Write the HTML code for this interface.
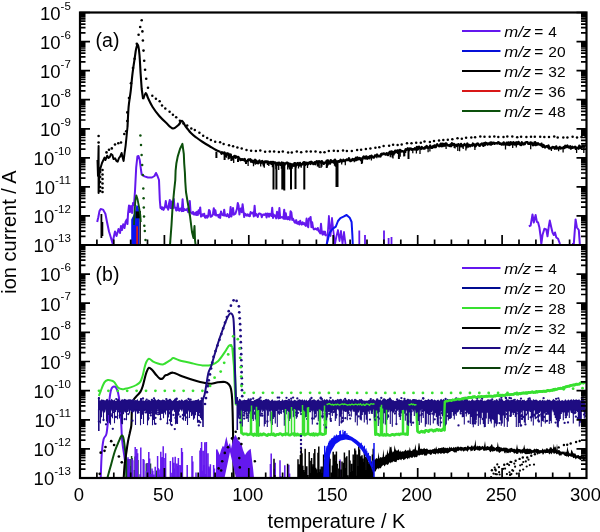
<!DOCTYPE html><html><head><meta charset="utf-8"><style>html,body{margin:0;padding:0;background:#fff;}svg{display:block;will-change:transform;}</style></head><body>
<svg width="600" height="532" viewBox="0 0 600 532">
<rect width="600" height="532" fill="#fff"/>
<path d="M100.7 478.0C100.9 474.1 101.2 461.1 101.7 454.6C102.2 448.2 102.8 442.8 103.6 439.3C104.4 435.8 105.7 437.4 106.5 433.6C107.3 429.8 107.9 421.7 108.4 416.3C108.9 410.9 108.8 405.5 109.3 401.0C109.8 396.5 110.4 391.9 111.2 389.5C112.0 387.1 113.1 386.6 114.1 386.6C115.1 386.6 116.2 387.7 117.0 389.5C117.8 391.3 118.3 392.7 118.9 397.2C119.5 401.7 120.3 409.9 120.8 416.3C121.3 422.7 121.5 430.7 121.8 435.5C122.1 440.3 122.2 441.2 122.7 445.0C123.2 448.8 123.9 453.0 124.7 458.5C125.5 464.0 127.0 474.8 127.5 478.0" fill="none" stroke="#6418ee" stroke-width="2.0" stroke-linejoin="round" />
<path d="M107.4 478.0C108.0 475.7 109.9 468.7 111.2 464.2C112.5 459.7 113.7 454.6 115.0 450.8C116.3 447.0 117.8 443.8 118.9 441.2C120.0 438.6 121.0 435.8 121.8 435.5C122.6 435.2 123.1 436.1 123.7 439.3C124.3 442.5 125.0 449.5 125.6 454.6C126.1 459.7 126.8 467.4 127.0 470.0" fill="none" stroke="#0c500c" stroke-width="2.0" stroke-linejoin="round" />
<path d="M126.0 478.0V464.0M126.7 478.0V458.7M127.4 478.0V467.8M128.1 478.0V459.5M128.8 478.0V458.9M129.5 478.0V466.0M130.2 478.0V467.7M130.9 478.0V459.0M131.6 478.0V456.0M132.3 478.0V458.3M133.0 478.0V477.3M133.7 478.0V477.2M134.4 478.0V469.9M135.1 478.0V456.5M135.8 478.0V457.6M136.5 478.0V455.9M137.2 478.0V459.6M137.9 478.0V460.0M145.6 478.0V478.0M146.3 478.0V463.4M147.0 478.0V463.2M147.7 478.0V470.0M148.4 478.0V463.1M149.1 478.0V466.8M149.8 478.0V463.6M150.5 478.0V463.4M156.1 478.0V473.0M156.8 478.0V470.4M158.2 478.0V468.8M158.9 478.0V476.6M159.6 478.0V474.5" stroke="#0c500c" stroke-width="1.5" fill="none"/>
<path d="M123.7 478.0C123.9 475.7 124.2 468.7 124.7 464.2C125.2 459.7 126.0 454.6 126.6 450.8C127.1 447.0 127.5 444.3 128.0 441.4C128.5 438.5 129.1 436.1 129.7 433.5C130.2 430.9 131.0 428.7 131.3 425.6C131.6 422.5 131.6 418.4 131.7 415.0C131.8 411.6 131.7 407.9 132.0 405.3C132.3 402.8 132.7 401.4 133.6 399.7C134.5 398.0 136.3 396.5 137.5 395.1C138.7 393.8 139.6 393.1 140.5 391.6C141.4 390.1 142.1 388.2 142.8 386.0C143.5 383.8 144.1 380.9 144.7 378.5C145.3 376.1 145.9 373.7 146.6 371.9C147.3 370.1 148.0 368.0 148.9 367.7C149.8 367.4 151.0 368.8 152.2 370.0C153.4 371.2 154.8 373.3 156.0 374.7C157.2 376.1 158.6 377.9 159.7 378.5C160.8 379.1 161.7 379.0 162.6 378.5C163.5 378.0 164.2 376.3 165.0 375.7C165.8 375.1 166.1 375.2 167.5 374.7C168.9 374.2 170.9 372.4 173.3 372.7C175.7 372.9 178.1 374.8 182.0 376.2C185.9 377.6 192.8 379.9 196.6 381.0C200.4 382.1 202.6 382.5 205.0 383.0C207.4 383.5 209.0 383.9 211.2 383.8C213.4 383.7 215.7 382.6 218.0 382.3C220.3 382.0 223.2 381.6 225.0 382.0C226.8 382.4 228.0 383.3 229.0 384.5C230.0 385.7 230.5 386.4 231.0 389.0C231.5 391.6 231.9 393.2 232.2 400.0C232.5 406.8 232.8 417.0 233.0 430.0C233.2 443.0 233.5 470.0 233.6 478.0" fill="none" stroke="#000" stroke-width="2.1" stroke-linejoin="round" />
<path d="M98.8 396.0C99.2 395.1 100.1 392.6 101.0 390.3C101.9 388.0 103.3 384.1 104.4 382.4C105.5 380.7 106.6 380.3 107.8 380.0C109.0 379.7 110.6 380.3 111.7 380.7C112.8 381.1 113.5 381.3 114.5 382.4C115.5 383.5 116.7 386.4 118.0 387.5C119.3 388.6 121.2 389.0 122.4 389.2C123.6 389.4 123.6 389.1 125.0 388.8C126.4 388.5 128.7 388.0 130.6 387.4C132.5 386.8 134.7 385.9 136.3 385.0C137.9 384.1 139.0 383.6 140.0 382.2C141.0 380.8 141.7 378.8 142.4 376.6C143.1 374.4 143.6 371.5 144.2 369.1C144.8 366.8 145.3 364.2 146.1 362.5C146.9 360.8 147.8 358.9 149.0 358.8C150.2 358.7 151.7 360.8 153.2 361.6C154.7 362.4 156.3 363.0 157.9 363.5C159.5 364.0 161.4 364.4 162.6 364.4C163.8 364.4 163.7 364.2 165.0 363.5C166.3 362.8 169.0 361.1 170.4 360.2C171.8 359.3 171.9 358.1 173.3 358.1C174.8 358.1 176.2 359.4 179.1 360.2C182.0 361.0 186.9 362.1 190.8 363.0C194.7 363.9 199.0 365.1 202.4 365.4C205.8 365.7 208.6 365.7 211.2 365.0C213.8 364.3 215.7 363.3 218.0 361.2C220.3 359.1 222.9 354.8 224.8 352.2C226.7 349.6 228.0 346.1 229.3 345.4C230.6 344.6 232.1 347.3 232.7 347.7" fill="none" stroke="#38e030" stroke-width="2.0" stroke-linejoin="round" />
<polyline points="232.7,347.7 234.3,365.7 235.5,395.0 236.0,404.0 240.4,404.5 241.5,433.0 242.5,433.5 243.5,434.3 244.5,433.8 245.5,434.0 246.5,433.8 247.5,434.8 248.5,434.6 249.5,434.3 250.5,433.7 251.5,434.3 252.5,434.2 253.5,435.4 254.5,433.9 255.5,434.6 256.5,435.2 257.5,433.9 258.5,435.5 259.5,435.2 260.5,433.9 261.5,435.0 262.5,434.8 263.5,433.6 264.5,434.2 265.5,434.8 266.5,435.4 267.5,435.5 268.5,434.1 269.5,434.7 270.5,434.8 271.5,433.9 272.5,434.7 273.5,433.7 274.5,435.3 275.5,435.5 276.5,434.4 277.5,434.4 278.5,434.6 279.5,433.7 280.5,433.7 281.5,434.2 282.5,435.2 283.5,434.5 284.5,434.1 285.5,434.7 286.5,433.6 287.5,433.8 288.5,434.9 289.5,435.0 290.5,435.0 291.5,434.2 292.5,434.1 293.5,433.6 294.5,435.2 295.5,433.9 296.5,435.1 297.5,433.9 298.5,434.9 299.5,435.2 300.5,434.5 301.5,434.4 302.5,434.4 303.5,433.7 304.5,435.0 305.5,434.9 306.5,433.8 307.5,433.7 308.5,433.8 309.5,434.1 310.5,434.9 311.5,434.0 312.5,435.0 313.5,433.6 314.5,435.3 315.5,433.9 316.5,434.2 317.5,435.1 318.5,433.9 319.5,434.2 320.5,434.2 321.5,433.6 322.5,434.7 323.5,434.5 324.5,434.1 325.5,433.6 326.5,404.2 327.5,404.5 328.5,403.7 329.5,403.7 330.5,404.3 331.5,404.9 332.5,404.2 333.5,405.2 334.5,404.6 335.5,404.3 336.5,404.9 337.5,404.1 338.5,404.7 339.5,405.1 340.5,404.6 341.5,404.2 342.5,403.9 343.5,404.6 344.5,404.0 345.5,404.3 346.5,404.6 347.5,405.2 348.5,404.8 349.5,404.5 350.5,405.1 351.5,404.2 352.5,404.3 353.5,404.8 354.5,404.6 355.5,404.1 356.5,404.4 357.5,405.0 358.5,404.1 359.5,404.8 360.5,403.8 361.5,405.2 362.5,404.8 363.5,404.2 364.5,405.3 365.5,405.0 366.5,403.8 367.5,404.1 368.5,404.5 369.5,405.3 370.5,403.9 371.5,403.8 372.5,404.2 373.5,403.8 374.5,404.4 375.5,434.6 376.5,433.8 377.5,434.4 378.5,434.5 379.5,435.3 380.5,435.0 381.5,433.8 382.5,435.2 383.5,435.3 384.5,434.3 385.5,435.4 386.5,435.2 387.5,434.4 388.5,435.1 389.5,435.3 390.5,435.3 391.5,434.6 392.5,434.4 393.5,434.7 394.5,435.2 395.5,434.3 396.5,434.2 397.5,434.3 398.5,434.0 399.5,434.8 400.5,433.9 401.5,434.0 402.5,433.8 403.5,433.7 404.5,434.0 405.5,434.4 406.5,433.7 407.5,434.6 408.5,404.3 409.5,404.8 410.5,404.5 411.5,403.8 412.5,404.7 413.5,404.2 414.5,405.1 415.5,404.6 416.5,404.9 417.5,431.2 418.5,432.1 419.5,432.5 420.5,431.8 421.5,431.1 422.5,432.1 423.5,431.5 424.5,432.3 425.5,430.4 426.5,430.4 427.5,431.0 428.5,431.6 429.5,430.1 430.5,430.1 431.5,429.9 432.5,430.3 433.5,431.3 434.5,430.1 435.5,430.7 436.5,429.5 437.5,429.5 438.5,430.5 439.5,429.7 440.5,430.5 441.5,430.6 442.5,429.3 443.5,428.8 444.5,430.2 445.5,401.3 446.5,401.1 447.5,401.2 448.5,400.9 449.5,400.5 450.5,400.6 451.5,400.8 452.5,400.0 453.5,400.1 454.5,400.1 455.5,399.6 456.5,399.3 457.5,399.2 458.5,399.1 459.5,399.6 460.5,399.3 461.5,399.0 462.5,399.0 463.5,398.4 464.5,398.1 465.5,398.5 466.5,398.1 467.5,398.2 468.5,397.5 469.5,397.4 470.5,397.5 471.5,397.6 472.5,397.0 473.5,397.0 474.5,396.7 475.5,397.1 476.5,397.3 477.5,397.0 478.5,396.6 479.5,397.0 480.5,396.9 481.5,396.4 482.5,396.9 483.5,396.7 484.5,396.5 485.5,396.3 486.5,396.1 487.5,396.3 488.5,396.1 489.5,396.0 490.5,396.2 491.5,396.2 492.5,396.3 493.5,396.3 494.5,395.8 495.5,396.0 496.5,395.6 497.5,395.6 498.5,395.6 499.5,395.9 500.5,395.1 501.5,395.3 502.5,395.1 503.5,395.4 504.5,395.4 505.5,394.9 506.5,394.5 507.5,394.8 508.5,394.7 509.5,394.7 510.5,394.7 511.5,394.3 512.5,394.3 513.5,394.4 514.5,393.7 515.5,393.7 516.5,394.0 517.5,394.1 518.5,394.0 519.5,393.4 520.5,393.8 521.5,393.2 522.5,393.2 523.5,392.9 524.5,393.1 525.5,392.9 526.5,393.0 527.5,393.1 528.5,392.4 529.5,392.7 530.5,392.5 531.5,392.2 532.5,391.9 533.5,392.5 534.5,392.2 535.5,392.1 536.5,391.5 537.5,392.1 538.5,391.6 539.5,391.5 540.5,391.5 541.5,391.3 542.5,391.6 543.5,391.1 544.5,391.2 545.5,391.2 546.5,391.2 547.5,390.5 548.5,390.5 549.5,390.9 550.5,390.5 551.5,390.1 552.5,390.3 553.5,389.5 554.5,389.4 555.5,389.1 556.5,389.3 557.5,389.0 558.5,388.6 559.5,388.6 560.5,388.2 561.5,388.3 562.5,388.1 563.5,387.5 564.5,387.7 565.5,386.8 566.5,386.9 567.5,386.3 568.5,386.1 569.5,386.2 570.5,385.5 571.5,385.3 572.5,385.1 573.5,385.0 574.5,385.1 575.5,384.5 576.5,384.1 577.5,384.3 578.5,384.1 579.5,384.0 580.5,383.0 581.5,382.9 582.5,382.8 583.5,383.0 584.5,382.4 585.5,382.4" fill="none" stroke="#38e030" stroke-width="2.8" stroke-linejoin="round" />
<path d="M98.5 399.0L99.5 400.6L100.5 400.5L101.5 399.3L102.5 399.8L103.5 399.7L104.5 400.2L105.5 400.5L106.5 398.9L107.5 398.8L108.5 400.6L109.5 399.7L110.5 400.5L111.5 398.7L112.5 399.7L113.5 400.4L114.5 399.2L115.5 400.9L116.5 400.8L117.5 398.8L118.5 398.8L119.5 399.9L120.5 400.9L121.5 399.6L122.5 399.2L123.5 399.7L124.5 398.8L125.5 399.2L126.5 399.7L127.5 399.8L128.5 399.2L129.5 399.2L130.5 399.2L131.5 399.8L132.5 399.4L133.5 398.7L134.5 400.6L135.5 400.0L136.5 400.2L137.5 399.1L138.5 401.0L139.5 400.7L140.5 399.0L141.5 399.5L142.5 400.4L143.5 400.3L144.5 400.9L145.5 399.7L146.5 400.6L147.5 400.2L148.5 399.4L149.5 400.1L150.5 400.7L151.5 400.6L152.5 399.9L153.5 400.1L154.5 398.8L155.5 399.3L156.5 400.5L157.5 399.7L158.5 399.1L159.5 400.0L160.5 400.3L161.5 400.3L162.5 399.6L163.5 399.7L164.5 399.9L165.5 400.5L166.5 399.9L167.5 399.6L168.5 399.8L169.5 398.8L170.5 398.8L171.5 400.3L172.5 401.0L173.5 400.1L174.5 399.6L175.5 399.1L176.5 399.9L177.5 401.0L178.5 400.5L179.5 399.9L180.5 400.7L181.5 399.2L182.5 399.9L183.5 400.9L184.5 400.0L185.5 399.8L186.5 399.3L187.5 400.0L188.5 400.9L189.5 398.7L190.5 400.5L191.5 400.6L192.5 400.7L193.5 400.4L194.5 400.6L195.5 399.9L196.5 400.0L197.5 399.7L198.5 398.8L199.5 400.7L200.5 400.0L201.5 399.2L202.5 399.9L203.0 410.9L202.0 410.4L201.0 410.4L200.0 411.2L199.0 411.5L198.0 411.4L197.0 410.8L196.0 409.1L195.0 409.9L194.0 409.7L193.0 411.3L192.0 412.4L191.0 412.2L190.0 412.2L189.0 412.3L188.0 410.0L187.0 412.4L186.0 411.7L185.0 409.3L184.0 409.1L183.0 409.1L182.0 412.0L181.0 410.0L180.0 409.4L179.0 411.5L178.0 410.4L177.0 409.3L176.0 409.6L175.0 411.1L174.0 409.7L173.0 410.1L172.0 411.8L171.0 410.8L170.0 410.3L169.0 410.9L168.0 409.1L167.0 410.5L166.0 410.7L165.0 409.8L164.0 409.4L163.0 412.6L162.0 411.0L161.0 409.8L160.0 411.4L159.0 412.3L158.0 409.1L157.0 409.1L156.0 409.6L155.0 411.9L154.0 409.6L153.0 411.8L152.0 411.7L151.0 411.2L150.0 409.9L149.0 412.9L148.0 412.2L147.0 411.1L146.0 409.9L145.0 411.6L144.0 410.6L143.0 411.3L142.0 410.3L141.0 411.5L140.0 409.2L139.0 410.2L138.0 412.9L137.0 412.5L136.0 410.2L135.0 412.4L134.0 410.2L133.0 412.8L132.0 412.0L131.0 410.7L130.0 410.0L129.0 409.0L128.0 412.5L127.0 409.2L126.0 412.3L125.0 412.8L124.0 411.3L123.0 409.7L122.0 412.5L121.0 412.9L120.0 411.8L119.0 411.0L118.0 410.5L117.0 410.4L116.0 409.8L115.0 411.7L114.0 410.7L113.0 409.8L112.0 409.4L111.0 411.7L110.0 410.2L109.0 411.0L108.0 410.3L107.0 412.5L106.0 412.6L105.0 409.1L104.0 409.8L103.0 410.3L102.0 412.9L101.0 412.1L100.0 410.4L99.0 409.9Z" fill="#1e0c82"/>
<path d="M98.5 409.0V422.8M100.5 409.0V423.6M101.5 409.0V417.3M103.5 409.0V421.0M104.5 409.0V412.6M106.5 409.0V421.6M107.5 409.0V422.9M108.5 409.0V415.1M109.5 409.0V423.3M110.5 409.0V424.7M112.5 409.0V418.3M113.5 409.0V410.9M114.5 409.0V423.3M117.5 409.0V419.3M119.5 409.0V418.6M120.5 409.0V411.5M121.5 409.0V423.7M122.5 409.0V424.3M123.5 409.0V414.2M126.5 409.0V420.2M127.5 409.0V411.9M129.5 409.0V413.6M131.5 409.0V411.9M132.5 409.0V413.6M133.5 409.0V411.7M135.5 409.0V425.0M137.5 409.0V413.8M138.5 409.0V411.7M139.5 409.0V410.9M140.5 409.0V425.2M141.5 409.0V419.0M142.5 409.0V414.7M143.5 409.0V424.1M146.5 409.0V413.3M147.5 409.0V425.2M148.5 409.0V420.4M149.5 409.0V413.9M150.5 409.0V414.6M151.5 409.0V411.4M152.5 409.0V425.2M153.5 409.0V419.9M154.5 409.0V424.5M155.5 409.0V414.6M156.5 409.0V414.7M159.5 409.0V415.0M160.5 409.0V418.7M161.5 409.0V413.7M162.5 409.0V413.7M163.5 409.0V418.3M164.5 409.0V411.4M165.5 409.0V414.4M167.5 409.0V423.2M168.5 409.0V417.5M170.5 409.0V424.7M171.5 409.0V421.9M174.5 409.0V411.8M175.5 409.0V424.2M176.5 409.0V423.8M177.5 409.0V424.0M178.5 409.0V414.7M183.5 409.0V420.5M184.5 409.0V416.5M185.5 409.0V420.9M186.5 409.0V413.8M187.5 409.0V424.9M189.5 409.0V418.1M191.5 409.0V415.9M192.5 409.0V413.9M193.5 409.0V419.8M194.5 409.0V418.6M195.5 409.0V415.3M196.5 409.0V412.0M197.5 409.0V422.7M198.5 409.0V416.0M199.5 409.0V413.5M200.5 409.0V417.9M201.5 409.0V419.8M202.5 409.0V420.4" stroke="#1e0c82" stroke-width="1.1" fill="none"/>
<g fill="#1e0c82"><circle cx="174.9" cy="410.6" r="1.15"/><circle cx="148.5" cy="418.2" r="1.15"/><circle cx="122.0" cy="417.6" r="1.15"/><circle cx="193.3" cy="414.7" r="1.15"/><circle cx="194.4" cy="411.6" r="1.15"/><circle cx="103.5" cy="420.0" r="1.15"/><circle cx="106.0" cy="424.3" r="1.15"/><circle cx="115.2" cy="411.1" r="1.15"/><circle cx="178.5" cy="414.5" r="1.15"/><circle cx="170.9" cy="414.1" r="1.15"/><circle cx="187.2" cy="417.5" r="1.15"/><circle cx="175.5" cy="417.9" r="1.15"/><circle cx="160.6" cy="419.2" r="1.15"/><circle cx="198.8" cy="421.7" r="1.15"/><circle cx="158.2" cy="412.4" r="1.15"/><circle cx="121.2" cy="414.8" r="1.15"/><circle cx="158.0" cy="410.1" r="1.15"/><circle cx="169.7" cy="412.3" r="1.15"/><circle cx="173.4" cy="414.9" r="1.15"/><circle cx="115.7" cy="416.9" r="1.15"/><circle cx="174.8" cy="429.1" r="1.15"/><circle cx="182.9" cy="415.0" r="1.15"/><circle cx="164.2" cy="411.7" r="1.15"/><circle cx="198.8" cy="425.4" r="1.15"/><circle cx="113.0" cy="412.2" r="1.15"/><circle cx="167.4" cy="423.3" r="1.15"/><circle cx="171.7" cy="425.0" r="1.15"/><circle cx="200.0" cy="415.4" r="1.15"/><circle cx="138.5" cy="412.4" r="1.15"/><circle cx="115.7" cy="417.1" r="1.15"/><circle cx="132.5" cy="420.7" r="1.15"/><circle cx="198.8" cy="420.9" r="1.15"/><circle cx="111.0" cy="415.8" r="1.15"/><circle cx="110.8" cy="414.2" r="1.15"/><circle cx="129.4" cy="410.1" r="1.15"/><circle cx="98.9" cy="421.6" r="1.15"/><circle cx="118.3" cy="411.3" r="1.15"/><circle cx="164.1" cy="410.5" r="1.15"/><circle cx="161.8" cy="412.4" r="1.15"/><circle cx="128.3" cy="414.1" r="1.15"/><circle cx="155.2" cy="411.4" r="1.15"/><circle cx="124.7" cy="419.2" r="1.15"/><circle cx="169.9" cy="413.3" r="1.15"/><circle cx="200.2" cy="422.3" r="1.15"/><circle cx="155.5" cy="423.8" r="1.15"/><circle cx="178.9" cy="410.8" r="1.15"/><circle cx="158.1" cy="414.3" r="1.15"/><circle cx="109.8" cy="413.8" r="1.15"/><circle cx="182.9" cy="418.6" r="1.15"/><circle cx="155.5" cy="417.8" r="1.15"/><circle cx="199.3" cy="411.3" r="1.15"/><circle cx="112.8" cy="428.8" r="1.15"/><circle cx="150.8" cy="415.4" r="1.15"/><circle cx="151.1" cy="412.7" r="1.15"/><circle cx="135.8" cy="410.3" r="1.15"/><circle cx="144.7" cy="410.1" r="1.15"/><circle cx="145.5" cy="412.4" r="1.15"/><circle cx="180.3" cy="416.7" r="1.15"/><circle cx="169.9" cy="420.1" r="1.15"/><circle cx="138.0" cy="410.5" r="1.15"/><circle cx="119.8" cy="415.6" r="1.15"/><circle cx="161.0" cy="410.1" r="1.15"/><circle cx="190.6" cy="399.6" r="1.15"/><circle cx="151.9" cy="400.0" r="1.15"/><circle cx="146.7" cy="399.6" r="1.15"/><circle cx="141.2" cy="399.4" r="1.15"/><circle cx="201.7" cy="398.3" r="1.15"/><circle cx="116.3" cy="399.1" r="1.15"/><circle cx="154.0" cy="398.4" r="1.15"/><circle cx="98.9" cy="398.5" r="1.15"/><circle cx="143.0" cy="398.5" r="1.15"/><circle cx="188.5" cy="399.0" r="1.15"/><circle cx="175.2" cy="399.7" r="1.15"/><circle cx="176.7" cy="398.7" r="1.15"/><circle cx="176.4" cy="399.1" r="1.15"/><circle cx="166.3" cy="399.1" r="1.15"/><circle cx="141.0" cy="399.1" r="1.15"/></g>
<path d="M237.3 400.9L238.3 400.9L239.3 398.8L240.3 398.9L241.3 400.6L242.3 400.4L243.3 400.2L244.3 399.4L245.3 400.1L246.3 400.1L247.3 400.0L248.3 399.1L249.3 399.7L250.3 399.6L251.3 400.4L252.3 401.0L253.3 400.9L254.3 400.0L255.3 399.7L256.3 399.3L257.3 398.8L258.3 398.8L259.3 399.8L260.3 399.4L261.3 399.6L262.3 400.8L263.3 399.9L264.3 400.0L265.3 399.2L266.3 398.8L267.3 399.4L268.3 399.0L269.3 399.9L270.3 401.0L271.3 400.3L272.3 399.1L273.3 400.8L274.3 400.5L275.3 400.4L276.3 400.8L277.3 400.5L278.3 400.5L279.3 399.5L280.3 401.0L281.3 400.9L282.3 399.1L283.3 400.4L284.3 400.3L285.3 399.8L286.3 399.9L287.3 399.8L288.3 400.8L289.3 399.9L290.3 400.6L291.3 399.5L292.3 400.7L293.3 400.8L294.3 399.8L295.3 400.0L296.3 400.8L297.3 400.4L298.3 399.8L299.3 399.2L300.3 399.4L301.3 400.3L302.3 399.1L303.3 400.8L304.3 399.3L305.3 400.8L306.3 399.4L307.3 400.9L308.3 400.3L309.3 399.9L310.3 399.9L311.3 400.2L312.3 400.1L313.3 399.4L314.3 399.2L315.3 399.9L316.3 400.8L317.3 400.1L318.3 398.9L319.3 400.6L320.3 400.4L321.3 400.8L322.3 399.1L323.3 400.4L324.3 398.8L325.3 400.2L326.3 399.3L327.3 399.2L328.3 400.7L329.3 398.9L330.3 399.9L331.3 400.7L332.3 399.3L333.3 399.2L334.3 400.7L335.3 399.7L336.3 400.3L337.3 398.8L338.3 399.5L339.3 399.1L340.3 400.2L341.3 398.9L342.3 400.9L343.3 398.8L344.3 400.4L345.3 398.7L346.3 399.3L347.3 400.6L348.3 399.1L349.3 399.1L350.3 400.3L351.3 399.6L352.3 398.8L353.3 401.0L354.3 399.0L355.3 398.8L356.3 399.5L357.3 400.1L358.3 400.4L359.3 399.0L360.3 399.5L361.3 398.8L362.3 399.7L363.3 400.5L364.3 400.4L365.3 400.8L366.3 400.4L367.3 400.7L368.3 400.3L369.3 399.8L370.3 399.2L371.3 400.2L372.3 399.4L373.3 398.9L374.3 399.7L375.3 400.7L376.3 399.0L377.3 400.0L378.3 399.6L379.3 399.9L380.3 399.0L381.3 400.9L382.3 399.3L383.3 400.1L384.3 399.7L385.3 398.7L386.3 400.0L387.3 399.0L388.3 398.8L389.3 398.8L390.3 399.1L391.3 398.9L392.3 400.2L393.3 399.9L394.3 401.0L395.3 400.8L396.3 401.0L397.3 399.2L398.3 399.7L399.3 399.3L400.3 400.1L401.3 400.1L402.3 400.5L403.3 400.3L404.3 399.3L405.3 399.7L406.3 399.9L407.3 398.7L408.3 398.8L409.3 399.6L410.3 399.0L411.3 400.4L412.3 399.3L413.3 398.9L414.3 399.1L415.3 399.2L416.3 399.2L417.3 399.9L418.3 399.8L419.3 399.4L420.3 400.2L421.3 399.2L422.3 400.8L423.3 400.9L424.3 400.4L425.3 399.7L426.3 399.9L427.3 400.0L428.3 398.8L429.3 399.7L430.3 399.9L431.3 399.1L432.3 398.9L433.3 400.5L434.3 399.5L435.3 399.9L436.3 400.8L437.3 400.1L438.3 399.4L439.3 401.0L440.3 399.6L441.3 398.7L442.3 400.3L443.3 398.9L444.3 399.4L445.3 400.6L446.3 400.2L447.3 398.7L448.3 399.7L449.3 399.6L450.3 399.8L451.3 399.2L452.3 400.1L453.3 398.9L454.3 399.4L455.3 399.6L456.3 400.9L457.3 398.9L458.3 400.4L459.3 399.1L460.3 400.0L461.3 399.6L462.3 399.8L463.3 400.4L464.3 399.6L465.3 399.0L466.3 399.0L467.3 398.9L468.3 400.7L469.3 400.2L470.3 400.9L471.3 400.3L472.3 398.8L473.3 400.2L474.3 400.5L475.3 400.4L476.3 399.8L477.3 399.5L478.3 399.8L479.3 400.5L480.3 399.3L481.3 399.9L482.3 399.8L483.3 400.9L484.3 400.6L485.3 400.8L486.3 400.6L487.3 399.4L488.3 399.2L489.3 399.8L490.3 399.3L491.3 399.7L492.3 400.3L493.3 400.8L494.3 400.0L495.3 400.6L496.3 398.9L497.3 399.5L498.3 401.0L499.3 399.0L500.3 399.7L501.3 398.9L502.3 398.9L503.3 400.8L504.3 401.0L505.3 400.2L506.3 399.0L507.3 399.4L508.3 399.2L509.3 400.2L510.3 400.3L511.3 399.7L512.3 399.9L513.3 399.0L514.3 399.9L515.3 400.9L516.3 400.4L517.3 398.9L518.3 399.9L519.3 400.3L520.3 399.3L521.3 400.8L522.3 399.8L523.3 400.3L524.3 399.6L525.3 401.0L526.3 400.5L527.3 400.0L528.3 399.0L529.3 399.7L530.3 398.8L531.3 400.1L532.3 400.7L533.3 399.1L534.3 399.9L535.3 399.8L536.3 399.6L537.3 400.3L538.3 400.9L539.3 400.3L540.3 399.8L541.3 400.9L542.3 399.5L543.3 400.4L544.3 400.2L545.3 400.5L546.3 400.7L547.3 399.2L548.3 400.1L549.3 399.6L550.3 400.2L551.3 400.9L552.3 400.2L553.3 398.7L554.3 399.8L555.3 400.3L556.3 400.7L557.3 400.2L558.3 400.6L559.3 398.7L560.3 400.9L561.3 400.4L562.3 400.1L563.3 400.8L564.3 400.7L565.3 398.9L566.3 400.6L567.3 400.5L568.3 399.2L569.3 400.4L570.3 400.0L571.3 399.1L572.3 400.5L573.3 399.0L574.3 400.1L575.3 399.7L576.3 399.3L577.3 400.0L578.3 399.8L579.3 399.2L580.3 400.9L581.3 398.9L582.3 398.7L583.3 399.8L584.3 400.6L585.3 400.2L586.0 412.0L585.0 410.9L584.0 411.7L583.0 410.3L582.0 410.1L581.0 411.0L580.0 409.1L579.0 409.3L578.0 412.0L577.0 409.7L576.0 412.0L575.0 412.1L574.0 410.6L573.0 411.7L572.0 412.1L571.0 412.5L570.0 409.5L569.0 409.7L568.0 410.5L567.0 410.9L566.0 410.2L565.0 409.0L564.0 411.2L563.0 412.9L562.0 410.5L561.0 411.2L560.0 410.5L559.0 410.8L558.0 412.5L557.0 410.2L556.0 411.6L555.0 410.9L554.0 411.2L553.0 412.7L552.0 409.3L551.0 412.3L550.0 410.2L549.0 411.6L548.0 412.2L547.0 411.6L546.0 410.6L545.0 412.4L544.0 409.4L543.0 411.5L542.0 410.6L541.0 411.1L540.0 412.4L539.0 412.2L538.0 411.5L537.0 410.2L536.0 409.9L535.0 410.8L534.0 409.9L533.0 410.1L532.0 412.8L531.0 409.4L530.0 412.3L529.0 410.5L528.0 410.5L527.0 410.3L526.0 409.3L525.0 410.8L524.0 409.7L523.0 410.8L522.0 410.2L521.0 412.6L520.0 412.7L519.0 410.8L518.0 411.6L517.0 412.7L516.0 410.3L515.0 409.4L514.0 410.0L513.0 409.8L512.0 411.7L511.0 410.5L510.0 410.4L509.0 412.2L508.0 409.9L507.0 412.2L506.0 411.5L505.0 410.6L504.0 412.3L503.0 410.4L502.0 412.5L501.0 412.7L500.0 411.0L499.0 411.8L498.0 412.8L497.0 412.0L496.0 412.0L495.0 412.5L494.0 412.7L493.0 412.0L492.0 412.9L491.0 410.2L490.0 411.5L489.0 411.7L488.0 410.5L487.0 410.6L486.0 409.7L485.0 412.8L484.0 410.4L483.0 410.9L482.0 412.6L481.0 409.7L480.0 412.8L479.0 409.5L478.0 409.1L477.0 410.4L476.0 410.4L475.0 412.7L474.0 412.5L473.0 412.0L472.0 410.7L471.0 411.2L470.0 409.9L469.0 412.3L468.0 410.6L467.0 410.1L466.0 411.6L465.0 409.6L464.0 410.3L463.0 412.7L462.0 409.4L461.0 409.6L460.0 409.8L459.0 410.0L458.0 410.7L457.0 410.0L456.0 410.4L455.0 410.0L454.0 410.0L453.0 411.4L452.0 410.3L451.0 410.5L450.0 412.1L449.0 409.2L448.0 409.6L447.0 412.4L446.0 410.7L445.0 412.1L444.0 409.5L443.0 411.1L442.0 412.4L441.0 410.4L440.0 412.1L439.0 411.4L438.0 410.6L437.0 413.0L436.0 410.6L435.0 410.9L434.0 411.5L433.0 410.3L432.0 412.4L431.0 411.4L430.0 411.4L429.0 411.2L428.0 412.9L427.0 413.0L426.0 412.4L425.0 410.8L424.0 410.6L423.0 411.1L422.0 409.2L421.0 409.4L420.0 413.0L419.0 409.5L418.0 412.7L417.0 411.7L416.0 412.7L415.0 409.3L414.0 410.2L413.0 412.2L412.0 409.0L411.0 409.4L410.0 410.4L409.0 409.7L408.0 409.6L407.0 411.7L406.0 409.4L405.0 412.9L404.0 411.6L403.0 409.2L402.0 412.6L401.0 410.0L400.0 410.9L399.0 411.2L398.0 409.6L397.0 411.0L396.0 409.2L395.0 409.8L394.0 412.7L393.0 412.3L392.0 411.1L391.0 411.7L390.0 412.5L389.0 409.6L388.0 411.0L387.0 409.5L386.0 409.5L385.0 409.4L384.0 409.8L383.0 409.2L382.0 409.9L381.0 410.5L380.0 411.5L379.0 412.4L378.0 412.6L377.0 411.9L376.0 411.0L375.0 412.7L374.0 409.7L373.0 409.4L372.0 412.3L371.0 411.5L370.0 409.8L369.0 410.5L368.0 410.2L367.0 410.7L366.0 410.7L365.0 410.6L364.0 412.2L363.0 412.2L362.0 411.2L361.0 410.9L360.0 410.1L359.0 412.1L358.0 412.9L357.0 409.9L356.0 411.8L355.0 411.8L354.0 411.6L353.0 409.1L352.0 411.2L351.0 409.8L350.0 409.8L349.0 411.3L348.0 411.6L347.0 411.5L346.0 412.0L345.0 411.8L344.0 410.9L343.0 409.2L342.0 412.1L341.0 412.3L340.0 412.3L339.0 411.4L338.0 409.2L337.0 409.8L336.0 409.4L335.0 411.5L334.0 411.2L333.0 409.7L332.0 412.8L331.0 412.9L330.0 412.6L329.0 410.9L328.0 410.2L327.0 409.8L326.0 412.3L325.0 411.8L324.0 410.1L323.0 412.6L322.0 411.3L321.0 410.7L320.0 410.7L319.0 411.9L318.0 410.8L317.0 411.6L316.0 409.5L315.0 411.8L314.0 410.1L313.0 412.6L312.0 409.9L311.0 410.3L310.0 411.2L309.0 410.6L308.0 411.1L307.0 412.7L306.0 409.8L305.0 412.1L304.0 411.8L303.0 412.1L302.0 410.8L301.0 410.8L300.0 410.4L299.0 410.9L298.0 410.0L297.0 409.8L296.0 410.9L295.0 409.8L294.0 410.9L293.0 411.3L292.0 410.2L291.0 409.7L290.0 411.4L289.0 412.4L288.0 409.9L287.0 411.5L286.0 411.6L285.0 412.5L284.0 411.7L283.0 410.2L282.0 409.8L281.0 412.3L280.0 410.2L279.0 409.1L278.0 412.5L277.0 409.8L276.0 410.3L275.0 410.3L274.0 410.0L273.0 411.9L272.0 410.4L271.0 410.8L270.0 410.7L269.0 412.3L268.0 409.1L267.0 411.3L266.0 409.5L265.0 409.6L264.0 411.4L263.0 410.5L262.0 409.3L261.0 411.4L260.0 412.7L259.0 411.6L258.0 411.0L257.0 412.2L256.0 412.7L255.0 409.6L254.0 410.2L253.0 412.9L252.0 412.7L251.0 409.8L250.0 411.8L249.0 412.5L248.0 411.4L247.0 411.8L246.0 411.1L245.0 409.9L244.0 409.9L243.0 409.2L242.0 411.7L241.0 409.6L240.0 411.5L239.0 410.6L238.0 410.7Z" fill="#1e0c82"/>
<path d="M238.3 409.0V418.0M239.3 409.0V413.6M240.3 409.0V419.0M242.3 409.0V426.5M243.3 409.0V411.2M244.3 409.0V416.7M245.3 409.0V411.9M246.3 409.0V418.8M248.3 409.0V422.1M249.3 409.0V413.7M250.3 409.0V418.1M251.3 409.0V412.5M252.3 409.0V419.1M253.3 409.0V421.0M255.3 409.0V419.4M256.3 409.0V421.4M257.3 409.0V412.5M258.3 409.0V421.3M259.3 409.0V426.5M260.3 409.0V415.7M262.3 409.0V412.0M264.3 409.0V426.5M265.3 409.0V423.9M267.3 409.0V426.9M268.3 409.0V415.7M270.3 409.0V421.5M272.3 409.0V424.9M273.3 409.0V419.1M274.3 409.0V417.3M275.3 409.0V423.6M276.3 409.0V411.1M277.3 409.0V426.9M279.3 409.0V414.9M281.3 409.0V414.1M284.3 409.0V425.8M285.3 409.0V420.1M286.3 409.0V413.9M287.3 409.0V410.6M288.3 409.0V418.4M289.3 409.0V421.1M290.3 409.0V418.7M291.3 409.0V416.8M293.3 409.0V417.2M294.3 409.0V416.2M296.3 409.0V418.7M297.3 409.0V417.3M300.3 409.0V412.8M301.3 409.0V412.3M302.3 409.0V410.8M303.3 409.0V427.1M304.3 409.0V419.7M305.3 409.0V417.4M306.3 409.0V417.1M307.3 409.0V413.7M311.3 409.0V410.8M312.3 409.0V424.5M314.3 409.0V419.6M315.3 409.0V414.2M316.3 409.0V416.1M318.3 409.0V421.3M319.3 409.0V419.0M320.3 409.0V426.6M322.3 409.0V418.5M324.3 409.0V421.1M326.3 409.0V420.2M327.3 409.0V417.6M330.3 409.0V420.5M332.3 409.0V416.1M334.3 409.0V412.6M335.3 409.0V421.1M336.3 409.0V418.4M339.3 409.0V425.9M340.3 409.0V416.8M341.3 409.0V423.5M343.3 409.0V421.4M344.3 409.0V411.0M345.3 409.0V412.1M347.3 409.0V420.3M348.3 409.0V413.1M350.3 409.0V411.6M351.3 409.0V416.7M353.3 409.0V411.8M354.3 409.0V410.9M355.3 409.0V422.2M356.3 409.0V415.5M357.3 409.0V425.6M360.3 409.0V419.8M361.3 409.0V420.4M362.3 409.0V415.1M364.3 409.0V422.5M365.3 409.0V414.7M366.3 409.0V419.7M367.3 409.0V424.6M369.3 409.0V414.1M371.3 409.0V413.8M372.3 409.0V414.0M374.3 409.0V418.6M375.3 409.0V416.8M376.3 409.0V416.1M377.3 409.0V413.4M378.3 409.0V426.1M380.3 409.0V423.6M381.3 409.0V413.6M382.3 409.0V410.5M383.3 409.0V423.4M384.3 409.0V413.2M385.3 409.0V424.5M386.3 409.0V425.2M387.3 409.0V419.7M388.3 409.0V412.2M390.3 409.0V423.9M392.3 409.0V426.8M393.3 409.0V412.6M394.3 409.0V411.5M396.3 409.0V423.8M397.3 409.0V410.8M399.3 409.0V417.0M400.3 409.0V420.0M401.3 409.0V413.4M402.3 409.0V415.7M404.3 409.0V413.8M405.3 409.0V420.8M407.3 409.0V424.7M408.3 409.0V426.0M409.3 409.0V412.1M410.3 409.0V423.3M411.3 409.0V426.0M414.3 409.0V415.9M416.3 409.0V413.3M417.3 409.0V410.7M418.3 409.0V420.9M419.3 409.0V424.9M421.3 409.0V422.7M423.3 409.0V418.1M424.3 409.0V411.3M425.3 409.0V426.8M426.3 409.0V424.2M428.3 409.0V424.6M429.3 409.0V415.0M430.3 409.0V425.3M431.3 409.0V411.7M433.3 409.0V423.4M434.3 409.0V415.6M435.3 409.0V413.2M436.3 409.0V416.9M437.3 409.0V424.4M438.3 409.0V426.1M439.3 409.0V415.8M440.3 409.0V426.7M441.3 409.0V411.0M442.3 409.0V416.3M443.3 409.0V423.2M444.3 409.0V414.5M445.3 409.0V425.7M446.3 409.0V424.4M447.3 409.0V413.0M448.3 409.0V420.6M449.3 409.0V419.1M450.3 409.0V418.5M451.3 409.0V417.7M452.3 409.0V411.9M453.3 409.0V415.8M454.3 409.0V419.5M455.3 409.0V414.3M456.3 409.0V415.7M457.3 409.0V412.5M460.3 409.0V412.9M461.3 409.0V411.9M462.3 409.0V417.2M463.3 409.0V417.1M464.3 409.0V424.4M465.3 409.0V410.5M466.3 409.0V416.4M467.3 409.0V412.7M468.3 409.0V414.5M469.3 409.0V413.9M470.3 409.0V424.0M471.3 409.0V417.0M472.3 409.0V424.6M473.3 409.0V427.2M474.3 409.0V423.9M475.3 409.0V419.8M476.3 409.0V419.7M477.3 409.0V411.4M478.3 409.0V426.1M479.3 409.0V417.7M480.3 409.0V424.5M481.3 409.0V417.9M482.3 409.0V412.7M483.3 409.0V424.1M484.3 409.0V427.2M485.3 409.0V427.0M486.3 409.0V418.6M487.3 409.0V412.8M488.3 409.0V424.1M489.3 409.0V418.7M490.3 409.0V421.6M491.3 409.0V423.6M492.3 409.0V419.5M493.3 409.0V419.2M494.3 409.0V427.4M495.3 409.0V423.6M496.3 409.0V426.3M497.3 409.0V424.2M498.3 409.0V414.3M499.3 409.0V414.4M500.3 409.0V420.5M501.3 409.0V425.8M502.3 409.0V423.5M503.3 409.0V415.4M504.3 409.0V426.7M505.3 409.0V417.9M506.3 409.0V411.1M507.3 409.0V427.0M508.3 409.0V421.5M509.3 409.0V411.1M510.3 409.0V417.0M511.3 409.0V416.4M512.3 409.0V412.4M513.3 409.0V415.0M514.3 409.0V413.0M515.3 409.0V417.0M516.3 409.0V426.9M517.3 409.0V410.7M518.3 409.0V427.0M519.3 409.0V423.0M520.3 409.0V426.4M522.3 409.0V420.0M523.3 409.0V410.6M524.3 409.0V422.4M525.3 409.0V423.2M526.3 409.0V410.9M527.3 409.0V414.3M528.3 409.0V419.9M530.3 409.0V411.9M531.3 409.0V421.5M532.3 409.0V416.9M533.3 409.0V425.4M535.3 409.0V419.2M536.3 409.0V414.6M537.3 409.0V414.1M538.3 409.0V421.4M539.3 409.0V413.0M541.3 409.0V426.7M542.3 409.0V421.0M543.3 409.0V421.8M544.3 409.0V413.5M545.3 409.0V423.6M546.3 409.0V411.9M547.3 409.0V413.2M548.3 409.0V414.8M549.3 409.0V424.1M550.3 409.0V421.1M551.3 409.0V423.3M554.3 409.0V415.2M555.3 409.0V418.0M556.3 409.0V420.3M557.3 409.0V426.8M558.3 409.0V427.4M559.3 409.0V421.0M560.3 409.0V419.1M561.3 409.0V413.9M562.3 409.0V412.3M563.3 409.0V420.3M564.3 409.0V412.6M565.3 409.0V416.3M566.3 409.0V417.3M567.3 409.0V415.7M568.3 409.0V412.4M569.3 409.0V417.9M570.3 409.0V410.5M572.3 409.0V412.1M573.3 409.0V423.6M575.3 409.0V413.5M576.3 409.0V410.9M577.3 409.0V412.0M578.3 409.0V420.1M579.3 409.0V426.5M580.3 409.0V422.8M581.3 409.0V425.8M583.3 409.0V411.6M584.3 409.0V418.8M585.3 409.0V414.5" stroke="#1e0c82" stroke-width="1.1" fill="none"/>
<g fill="#1e0c82"><circle cx="506.8" cy="414.2" r="1.15"/><circle cx="342.6" cy="421.2" r="1.15"/><circle cx="494.0" cy="419.1" r="1.15"/><circle cx="247.9" cy="415.5" r="1.15"/><circle cx="239.4" cy="418.1" r="1.15"/><circle cx="580.3" cy="416.2" r="1.15"/><circle cx="400.3" cy="415.7" r="1.15"/><circle cx="530.7" cy="417.3" r="1.15"/><circle cx="575.4" cy="412.6" r="1.15"/><circle cx="262.4" cy="415.7" r="1.15"/><circle cx="548.8" cy="412.1" r="1.15"/><circle cx="538.9" cy="421.6" r="1.15"/><circle cx="295.9" cy="412.5" r="1.15"/><circle cx="531.7" cy="416.9" r="1.15"/><circle cx="534.4" cy="415.6" r="1.15"/><circle cx="454.5" cy="410.2" r="1.15"/><circle cx="541.7" cy="416.6" r="1.15"/><circle cx="315.6" cy="416.5" r="1.15"/><circle cx="536.0" cy="417.6" r="1.15"/><circle cx="466.0" cy="412.8" r="1.15"/><circle cx="348.6" cy="413.0" r="1.15"/><circle cx="387.1" cy="417.2" r="1.15"/><circle cx="490.3" cy="415.5" r="1.15"/><circle cx="542.4" cy="419.5" r="1.15"/><circle cx="519.4" cy="418.4" r="1.15"/><circle cx="538.5" cy="415.5" r="1.15"/><circle cx="256.7" cy="414.6" r="1.15"/><circle cx="377.9" cy="417.2" r="1.15"/><circle cx="278.8" cy="412.8" r="1.15"/><circle cx="545.7" cy="421.3" r="1.15"/><circle cx="581.3" cy="410.4" r="1.15"/><circle cx="525.4" cy="424.4" r="1.15"/><circle cx="294.8" cy="415.2" r="1.15"/><circle cx="499.5" cy="423.1" r="1.15"/><circle cx="333.7" cy="412.1" r="1.15"/><circle cx="388.2" cy="416.6" r="1.15"/><circle cx="492.1" cy="411.7" r="1.15"/><circle cx="460.7" cy="413.4" r="1.15"/><circle cx="258.1" cy="413.5" r="1.15"/><circle cx="555.6" cy="422.6" r="1.15"/><circle cx="325.9" cy="410.4" r="1.15"/><circle cx="411.0" cy="414.4" r="1.15"/><circle cx="358.8" cy="416.4" r="1.15"/><circle cx="429.8" cy="413.8" r="1.15"/><circle cx="534.1" cy="414.6" r="1.15"/><circle cx="238.7" cy="413.5" r="1.15"/><circle cx="310.0" cy="411.3" r="1.15"/><circle cx="564.6" cy="422.9" r="1.15"/><circle cx="312.3" cy="418.5" r="1.15"/><circle cx="408.4" cy="410.9" r="1.15"/><circle cx="571.8" cy="411.9" r="1.15"/><circle cx="379.6" cy="410.6" r="1.15"/><circle cx="421.5" cy="415.1" r="1.15"/><circle cx="523.3" cy="417.0" r="1.15"/><circle cx="271.7" cy="422.8" r="1.15"/><circle cx="296.8" cy="413.2" r="1.15"/><circle cx="297.9" cy="412.9" r="1.15"/><circle cx="427.5" cy="412.6" r="1.15"/><circle cx="280.7" cy="412.4" r="1.15"/><circle cx="510.4" cy="415.8" r="1.15"/><circle cx="450.4" cy="417.6" r="1.15"/><circle cx="375.6" cy="416.2" r="1.15"/><circle cx="577.7" cy="418.1" r="1.15"/><circle cx="260.8" cy="415.6" r="1.15"/><circle cx="324.4" cy="425.0" r="1.15"/><circle cx="482.6" cy="419.0" r="1.15"/><circle cx="256.2" cy="411.7" r="1.15"/><circle cx="444.9" cy="414.5" r="1.15"/><circle cx="303.9" cy="421.2" r="1.15"/><circle cx="406.7" cy="414.5" r="1.15"/><circle cx="448.2" cy="412.6" r="1.15"/><circle cx="382.5" cy="419.0" r="1.15"/><circle cx="349.5" cy="415.2" r="1.15"/><circle cx="328.8" cy="411.0" r="1.15"/><circle cx="520.0" cy="416.1" r="1.15"/><circle cx="474.2" cy="419.4" r="1.15"/><circle cx="399.6" cy="411.4" r="1.15"/><circle cx="238.6" cy="416.1" r="1.15"/><circle cx="533.2" cy="410.0" r="1.15"/><circle cx="558.1" cy="421.5" r="1.15"/><circle cx="379.6" cy="418.6" r="1.15"/><circle cx="541.4" cy="414.3" r="1.15"/><circle cx="335.3" cy="410.9" r="1.15"/><circle cx="326.0" cy="427.5" r="1.15"/><circle cx="243.4" cy="415.3" r="1.15"/><circle cx="312.7" cy="418.6" r="1.15"/><circle cx="568.0" cy="422.4" r="1.15"/><circle cx="360.7" cy="418.1" r="1.15"/><circle cx="558.2" cy="411.8" r="1.15"/><circle cx="472.8" cy="412.9" r="1.15"/><circle cx="341.6" cy="422.1" r="1.15"/><circle cx="326.7" cy="414.8" r="1.15"/><circle cx="408.2" cy="421.5" r="1.15"/><circle cx="329.3" cy="413.8" r="1.15"/><circle cx="434.7" cy="419.3" r="1.15"/><circle cx="431.0" cy="411.1" r="1.15"/><circle cx="388.0" cy="415.3" r="1.15"/><circle cx="584.0" cy="414.6" r="1.15"/><circle cx="419.4" cy="415.5" r="1.15"/><circle cx="504.4" cy="414.3" r="1.15"/><circle cx="475.2" cy="416.3" r="1.15"/><circle cx="394.9" cy="413.5" r="1.15"/><circle cx="532.1" cy="411.7" r="1.15"/><circle cx="521.1" cy="425.5" r="1.15"/><circle cx="244.2" cy="418.6" r="1.15"/><circle cx="457.3" cy="410.1" r="1.15"/><circle cx="546.8" cy="413.9" r="1.15"/><circle cx="240.4" cy="422.5" r="1.15"/><circle cx="527.8" cy="410.1" r="1.15"/><circle cx="520.8" cy="411.6" r="1.15"/><circle cx="575.9" cy="416.7" r="1.15"/><circle cx="375.8" cy="420.2" r="1.15"/><circle cx="323.7" cy="416.5" r="1.15"/><circle cx="330.9" cy="420.9" r="1.15"/><circle cx="368.2" cy="410.7" r="1.15"/><circle cx="539.4" cy="415.4" r="1.15"/><circle cx="239.7" cy="414.4" r="1.15"/><circle cx="510.9" cy="410.6" r="1.15"/><circle cx="436.1" cy="410.5" r="1.15"/><circle cx="547.0" cy="420.8" r="1.15"/><circle cx="441.9" cy="413.2" r="1.15"/><circle cx="380.9" cy="410.4" r="1.15"/><circle cx="278.6" cy="412.1" r="1.15"/><circle cx="580.2" cy="415.2" r="1.15"/><circle cx="573.7" cy="413.4" r="1.15"/><circle cx="381.3" cy="416.5" r="1.15"/><circle cx="261.9" cy="413.7" r="1.15"/><circle cx="422.9" cy="411.1" r="1.15"/><circle cx="522.0" cy="418.9" r="1.15"/><circle cx="521.3" cy="416.4" r="1.15"/><circle cx="556.3" cy="414.6" r="1.15"/><circle cx="547.5" cy="412.3" r="1.15"/><circle cx="411.4" cy="411.5" r="1.15"/><circle cx="538.4" cy="420.5" r="1.15"/><circle cx="580.2" cy="413.9" r="1.15"/><circle cx="324.5" cy="413.8" r="1.15"/><circle cx="341.3" cy="413.2" r="1.15"/><circle cx="458.5" cy="425.4" r="1.15"/><circle cx="254.8" cy="413.7" r="1.15"/><circle cx="575.0" cy="412.5" r="1.15"/><circle cx="356.6" cy="411.7" r="1.15"/><circle cx="305.5" cy="414.7" r="1.15"/><circle cx="565.9" cy="417.3" r="1.15"/><circle cx="421.9" cy="413.8" r="1.15"/><circle cx="355.0" cy="410.5" r="1.15"/><circle cx="317.3" cy="423.7" r="1.15"/><circle cx="342.5" cy="418.0" r="1.15"/><circle cx="457.8" cy="410.7" r="1.15"/><circle cx="507.3" cy="418.8" r="1.15"/><circle cx="396.4" cy="424.1" r="1.15"/><circle cx="247.2" cy="417.6" r="1.15"/><circle cx="301.1" cy="414.1" r="1.15"/><circle cx="544.0" cy="417.0" r="1.15"/><circle cx="336.5" cy="414.8" r="1.15"/><circle cx="283.7" cy="411.6" r="1.15"/><circle cx="475.4" cy="419.9" r="1.15"/><circle cx="475.6" cy="421.9" r="1.15"/><circle cx="479.6" cy="412.4" r="1.15"/><circle cx="475.1" cy="423.6" r="1.15"/><circle cx="572.9" cy="412.0" r="1.15"/><circle cx="440.7" cy="418.0" r="1.15"/><circle cx="516.7" cy="413.6" r="1.15"/><circle cx="473.3" cy="411.0" r="1.15"/><circle cx="447.2" cy="415.9" r="1.15"/><circle cx="319.6" cy="411.1" r="1.15"/><circle cx="423.4" cy="410.6" r="1.15"/><circle cx="491.0" cy="416.8" r="1.15"/><circle cx="541.6" cy="414.3" r="1.15"/><circle cx="307.1" cy="418.9" r="1.15"/><circle cx="357.1" cy="410.7" r="1.15"/><circle cx="375.2" cy="419.6" r="1.15"/><circle cx="538.0" cy="416.8" r="1.15"/><circle cx="350.2" cy="418.6" r="1.15"/><circle cx="476.2" cy="414.9" r="1.15"/><circle cx="440.9" cy="422.4" r="1.15"/><circle cx="244.2" cy="412.8" r="1.15"/><circle cx="511.4" cy="412.2" r="1.15"/><circle cx="471.5" cy="413.9" r="1.15"/><circle cx="395.9" cy="411.5" r="1.15"/><circle cx="255.2" cy="412.4" r="1.15"/><circle cx="330.7" cy="418.9" r="1.15"/><circle cx="307.4" cy="416.2" r="1.15"/><circle cx="370.0" cy="419.6" r="1.15"/><circle cx="522.0" cy="415.2" r="1.15"/><circle cx="457.6" cy="410.8" r="1.15"/><circle cx="432.4" cy="413.7" r="1.15"/><circle cx="365.0" cy="410.8" r="1.15"/><circle cx="478.1" cy="414.8" r="1.15"/><circle cx="362.2" cy="410.8" r="1.15"/><circle cx="500.4" cy="414.3" r="1.15"/><circle cx="413.1" cy="422.7" r="1.15"/><circle cx="246.7" cy="413.6" r="1.15"/><circle cx="427.4" cy="412.5" r="1.15"/><circle cx="526.2" cy="414.6" r="1.15"/><circle cx="322.0" cy="416.3" r="1.15"/><circle cx="285.4" cy="414.0" r="1.15"/><circle cx="345.4" cy="418.2" r="1.15"/><circle cx="456.3" cy="410.2" r="1.15"/><circle cx="585.9" cy="416.1" r="1.15"/><circle cx="573.2" cy="411.6" r="1.15"/><circle cx="273.6" cy="415.1" r="1.15"/><circle cx="475.3" cy="416.9" r="1.15"/><circle cx="444.4" cy="417.0" r="1.15"/><circle cx="409.0" cy="411.6" r="1.15"/><circle cx="372.1" cy="410.8" r="1.15"/><circle cx="267.4" cy="421.5" r="1.15"/><circle cx="399.5" cy="414.1" r="1.15"/><circle cx="468.5" cy="421.7" r="1.15"/><circle cx="578.1" cy="410.4" r="1.15"/><circle cx="528.5" cy="399.0" r="1.15"/><circle cx="445.6" cy="399.0" r="1.15"/><circle cx="499.7" cy="399.3" r="1.15"/><circle cx="397.1" cy="399.5" r="1.15"/><circle cx="384.1" cy="399.4" r="1.15"/><circle cx="556.1" cy="398.8" r="1.15"/><circle cx="288.9" cy="399.8" r="1.15"/><circle cx="311.5" cy="398.0" r="1.15"/><circle cx="253.2" cy="398.5" r="1.15"/><circle cx="377.2" cy="399.5" r="1.15"/><circle cx="297.3" cy="398.4" r="1.15"/><circle cx="505.7" cy="397.6" r="1.15"/><circle cx="381.3" cy="397.9" r="1.15"/><circle cx="506.0" cy="398.2" r="1.15"/><circle cx="286.5" cy="397.8" r="1.15"/><circle cx="310.2" cy="399.3" r="1.15"/><circle cx="277.7" cy="397.6" r="1.15"/><circle cx="320.8" cy="397.6" r="1.15"/><circle cx="492.2" cy="399.4" r="1.15"/><circle cx="423.0" cy="398.3" r="1.15"/><circle cx="250.9" cy="399.3" r="1.15"/><circle cx="321.8" cy="398.9" r="1.15"/><circle cx="581.8" cy="398.1" r="1.15"/><circle cx="477.2" cy="398.6" r="1.15"/><circle cx="423.4" cy="398.5" r="1.15"/><circle cx="482.1" cy="398.8" r="1.15"/><circle cx="248.6" cy="399.5" r="1.15"/><circle cx="320.6" cy="398.4" r="1.15"/><circle cx="404.5" cy="399.0" r="1.15"/><circle cx="501.4" cy="397.8" r="1.15"/><circle cx="370.8" cy="399.1" r="1.15"/><circle cx="401.4" cy="398.1" r="1.15"/><circle cx="514.8" cy="399.9" r="1.15"/><circle cx="462.3" cy="398.8" r="1.15"/><circle cx="291.2" cy="398.7" r="1.15"/><circle cx="511.0" cy="398.3" r="1.15"/><circle cx="389.9" cy="398.6" r="1.15"/><circle cx="345.1" cy="399.0" r="1.15"/><circle cx="340.6" cy="399.8" r="1.15"/><circle cx="529.7" cy="398.3" r="1.15"/><circle cx="260.5" cy="397.6" r="1.15"/><circle cx="521.0" cy="398.6" r="1.15"/><circle cx="279.2" cy="397.6" r="1.15"/><circle cx="509.5" cy="398.0" r="1.15"/><circle cx="558.3" cy="398.4" r="1.15"/><circle cx="456.2" cy="398.4" r="1.15"/><circle cx="465.8" cy="397.9" r="1.15"/><circle cx="330.5" cy="397.8" r="1.15"/><circle cx="259.3" cy="398.9" r="1.15"/><circle cx="583.1" cy="397.5" r="1.15"/><circle cx="543.6" cy="398.2" r="1.15"/><circle cx="293.1" cy="397.6" r="1.15"/></g>
<path d="M98.8 397.0V431.0M203.0 398.0V427.0M237.3 397.0V430.0" stroke="#1e0c82" stroke-width="1.6" fill="none"/>
<path d="M250.5 433.7V411.5M251.5 434.3V405.6M256.5 435.2V406.8M257.5 433.9V410.7M258.5 435.5V409.9M271.5 433.9V411.4M285.5 434.7V409.1M288.5 434.9V411.8M291.5 434.2V407.0M294.5 435.2V408.9M302.5 434.4V405.1M303.5 433.7V410.3M304.5 435.0V411.5M307.5 433.7V407.4M308.5 433.8V407.0M319.5 434.2V409.6M320.5 434.2V410.2M324.5 434.1V405.5M376.5 433.8V410.4M380.5 435.0V406.7M381.5 433.8V404.7M382.5 435.2V408.6M386.5 435.2V409.8M402.5 433.8V410.0M403.5 433.7V410.3" stroke="#38e030" stroke-width="1.5" fill="none"/>
<polyline points="326.5,404.2 327.5,404.5 328.5,403.7 329.5,403.7 330.5,404.3 331.5,404.9 332.5,404.2 333.5,405.2 334.5,404.6 335.5,404.3 336.5,404.9 337.5,404.1 338.5,404.7 339.5,405.1 340.5,404.6 341.5,404.2 342.5,403.9 343.5,404.6 344.5,404.0 345.5,404.3 346.5,404.6 347.5,405.2 348.5,404.8 349.5,404.5 350.5,405.1 351.5,404.2 352.5,404.3 353.5,404.8 354.5,404.6 355.5,404.1 356.5,404.4 357.5,405.0 358.5,404.1 359.5,404.8 360.5,403.8 361.5,405.2 362.5,404.8 363.5,404.2 364.5,405.3 365.5,405.0 366.5,403.8 367.5,404.1 368.5,404.5 369.5,405.3 370.5,403.9 371.5,403.8 372.5,404.2 373.5,403.8 374.5,404.4" fill="none" stroke="#38e030" stroke-width="1.4" stroke-linejoin="round" />
<polyline points="408.5,404.3 409.5,404.8 410.5,404.5 411.5,403.8 412.5,404.7 413.5,404.2 414.5,405.1 415.5,404.6 416.5,404.9" fill="none" stroke="#38e030" stroke-width="1.4" stroke-linejoin="round" />
<polyline points="443.8,430.0 444.8,401.7 445.5,401.3 446.5,401.1 447.5,401.2 448.5,400.9 449.5,400.5 450.5,400.6 451.5,400.8 452.5,400.0 453.5,400.1 454.5,400.1 455.5,399.6 456.5,399.3 457.5,399.2 458.5,399.1 459.5,399.6 460.5,399.3 461.5,399.0 462.5,399.0 463.5,398.4 464.5,398.1 465.5,398.5 466.5,398.1 467.5,398.2 468.5,397.5 469.5,397.4 470.5,397.5 471.5,397.6 472.5,397.0 473.5,397.0 474.5,396.7 475.5,397.1 476.5,397.3 477.5,397.0 478.5,396.6 479.5,397.0 480.5,396.9 481.5,396.4 482.5,396.9 483.5,396.7 484.5,396.5 485.5,396.3 486.5,396.1 487.5,396.3 488.5,396.1 489.5,396.0 490.5,396.2 491.5,396.2 492.5,396.3 493.5,396.3 494.5,395.8 495.5,396.0 496.5,395.6 497.5,395.6 498.5,395.6 499.5,395.9 500.5,395.1 501.5,395.3 502.5,395.1 503.5,395.4 504.5,395.4 505.5,394.9 506.5,394.5 507.5,394.8 508.5,394.7 509.5,394.7 510.5,394.7 511.5,394.3 512.5,394.3 513.5,394.4 514.5,393.7 515.5,393.7 516.5,394.0 517.5,394.1 518.5,394.0 519.5,393.4 520.5,393.8 521.5,393.2 522.5,393.2 523.5,392.9 524.5,393.1 525.5,392.9 526.5,393.0 527.5,393.1 528.5,392.4 529.5,392.7 530.5,392.5 531.5,392.2 532.5,391.9 533.5,392.5 534.5,392.2 535.5,392.1 536.5,391.5 537.5,392.1 538.5,391.6 539.5,391.5 540.5,391.5 541.5,391.3 542.5,391.6 543.5,391.1 544.5,391.2 545.5,391.2 546.5,391.2 547.5,390.5 548.5,390.5 549.5,390.9 550.5,390.5 551.5,390.1 552.5,390.3 553.5,389.5 554.5,389.4 555.5,389.1 556.5,389.3 557.5,389.0 558.5,388.6 559.5,388.6 560.5,388.2 561.5,388.3 562.5,388.1 563.5,387.5 564.5,387.7 565.5,386.8 566.5,386.9 567.5,386.3 568.5,386.1 569.5,386.2 570.5,385.5 571.5,385.3 572.5,385.1 573.5,385.0 574.5,385.1 575.5,384.5 576.5,384.1 577.5,384.3 578.5,384.1 579.5,384.0 580.5,383.0 581.5,382.9 582.5,382.8 583.5,383.0 584.5,382.4 585.5,382.4" fill="none" stroke="#38e030" stroke-width="2.4" stroke-linejoin="round" />
<path d="M201.0 402.0C201.6 400.8 203.3 399.8 204.5 395.0C205.7 390.2 207.2 378.2 208.3 373.3C209.4 368.4 209.7 370.7 211.3 365.7C212.9 360.7 215.8 350.1 218.0 343.2C220.2 336.2 223.1 328.5 224.8 324.0C226.5 319.5 227.1 317.9 228.2 316.1C229.2 314.3 230.2 313.0 231.1 313.4C232.0 313.8 232.9 314.5 233.4 318.3C233.9 322.1 234.0 327.8 234.3 336.4C234.6 345.0 234.7 358.7 235.0 370.0C235.3 381.3 235.9 398.3 236.1 404.0" fill="none" stroke="#1e0c82" stroke-width="2.0" stroke-linejoin="round" />
<g fill="#1e0c82"><circle cx="205.0" cy="404.0" r="1.35"/><circle cx="206.0" cy="398.1" r="1.35"/><circle cx="206.9" cy="392.2" r="1.35"/><circle cx="207.9" cy="386.2" r="1.35"/><circle cx="208.8" cy="380.3" r="1.35"/><circle cx="210.0" cy="374.4" r="1.35"/><circle cx="211.1" cy="368.5" r="1.35"/><circle cx="212.3" cy="362.6" r="1.35"/><circle cx="213.5" cy="356.8" r="1.35"/><circle cx="215.5" cy="351.1" r="1.35"/><circle cx="217.5" cy="345.5" r="1.35"/><circle cx="219.5" cy="339.8" r="1.35"/><circle cx="221.4" cy="334.1" r="1.35"/><circle cx="223.2" cy="328.4" r="1.35"/><circle cx="225.0" cy="322.7" r="1.35"/><circle cx="226.9" cy="317.0" r="1.35"/><circle cx="228.7" cy="311.2" r="1.35"/><circle cx="230.9" cy="305.7" r="1.35"/><circle cx="233.6" cy="300.3" r="1.35"/><circle cx="236.6" cy="300.9" r="1.35"/><circle cx="238.9" cy="306.3" r="1.35"/><circle cx="239.3" cy="312.3" r="1.35"/><circle cx="239.7" cy="318.3" r="1.35"/><circle cx="240.1" cy="324.2" r="1.35"/><circle cx="240.4" cy="330.2" r="1.35"/><circle cx="240.6" cy="336.2" r="1.35"/><circle cx="240.8" cy="342.2" r="1.35"/><circle cx="241.0" cy="348.2" r="1.35"/><circle cx="241.2" cy="354.2" r="1.35"/><circle cx="241.3" cy="360.2" r="1.35"/><circle cx="241.5" cy="366.2" r="1.35"/><circle cx="241.6" cy="372.2" r="1.35"/><circle cx="241.8" cy="378.2" r="1.35"/><circle cx="241.9" cy="384.2" r="1.35"/><circle cx="242.0" cy="390.2" r="1.35"/><circle cx="242.2" cy="396.2" r="1.35"/><circle cx="242.4" cy="402.2" r="1.35"/></g>
<g fill="#1e0c82"><circle cx="301.0" cy="436.0" r="1.2"/><circle cx="301.0" cy="440.0" r="1.2"/><circle cx="301.0" cy="444.0" r="1.2"/><circle cx="301.0" cy="448.0" r="1.2"/><circle cx="301.0" cy="452.0" r="1.2"/></g>
<g fill="#38e030"><circle cx="99.0" cy="390.8" r="1.4"/><circle cx="108.4" cy="390.8" r="1.4"/><circle cx="117.8" cy="390.8" r="1.4"/><circle cx="127.2" cy="390.8" r="1.4"/><circle cx="136.6" cy="390.8" r="1.4"/><circle cx="146.0" cy="390.8" r="1.4"/><circle cx="155.4" cy="390.8" r="1.4"/><circle cx="164.8" cy="390.8" r="1.4"/><circle cx="174.2" cy="390.8" r="1.4"/><circle cx="183.6" cy="390.8" r="1.4"/><circle cx="193.0" cy="390.8" r="1.4"/><circle cx="202.4" cy="390.8" r="1.4"/><circle cx="210.1" cy="385.9" r="1.4"/><circle cx="214.6" cy="377.7" r="1.4"/><circle cx="220.7" cy="371.6" r="1.4"/><circle cx="224.2" cy="362.8" r="1.4"/><circle cx="228.2" cy="354.4" r="1.4"/><circle cx="231.0" cy="345.4" r="1.4"/><circle cx="233.2" cy="336.3" r="1.4"/><circle cx="237.8" cy="339.2" r="1.4"/><circle cx="239.6" cy="348.5" r="1.4"/><circle cx="240.2" cy="357.8" r="1.4"/><circle cx="240.8" cy="367.2" r="1.4"/><circle cx="241.2" cy="376.6" r="1.4"/><circle cx="241.5" cy="386.0" r="1.4"/><circle cx="244.3" cy="392.8" r="1.4"/><circle cx="253.7" cy="392.8" r="1.4"/><circle cx="263.1" cy="392.8" r="1.4"/><circle cx="272.5" cy="392.8" r="1.4"/><circle cx="281.9" cy="392.8" r="1.4"/><circle cx="291.3" cy="392.8" r="1.4"/><circle cx="300.7" cy="392.8" r="1.4"/><circle cx="310.1" cy="392.8" r="1.4"/><circle cx="319.5" cy="392.9" r="1.4"/><circle cx="328.9" cy="392.9" r="1.4"/><circle cx="338.3" cy="392.9" r="1.4"/><circle cx="347.7" cy="392.9" r="1.4"/><circle cx="357.1" cy="392.9" r="1.4"/><circle cx="366.5" cy="392.9" r="1.4"/><circle cx="375.9" cy="392.9" r="1.4"/><circle cx="385.3" cy="392.9" r="1.4"/><circle cx="394.7" cy="392.9" r="1.4"/><circle cx="404.1" cy="392.9" r="1.4"/><circle cx="413.5" cy="392.9" r="1.4"/><circle cx="422.9" cy="392.9" r="1.4"/><circle cx="432.3" cy="392.9" r="1.4"/><circle cx="441.7" cy="392.9" r="1.4"/><circle cx="451.1" cy="392.9" r="1.4"/><circle cx="460.5" cy="393.0" r="1.4"/><circle cx="469.9" cy="393.0" r="1.4"/><circle cx="479.3" cy="393.0" r="1.4"/><circle cx="488.7" cy="393.0" r="1.4"/><circle cx="498.1" cy="393.0" r="1.4"/><circle cx="507.5" cy="393.0" r="1.4"/><circle cx="516.9" cy="393.0" r="1.4"/><circle cx="526.3" cy="393.0" r="1.4"/><circle cx="535.7" cy="392.3" r="1.4"/><circle cx="545.0" cy="391.3" r="1.4"/><circle cx="554.3" cy="390.2" r="1.4"/><circle cx="563.7" cy="389.3" r="1.4"/><circle cx="573.1" cy="388.7" r="1.4"/><circle cx="582.5" cy="388.2" r="1.4"/></g>
<path d="M128.0 478.0V457.3M128.8 478.0V469.6M129.6 478.0V459.0M131.2 478.0V476.4M132.0 478.0V458.8M132.8 478.0V460.2M133.6 478.0V477.8M134.4 478.0V477.2M135.2 478.0V447.1M136.0 478.0V456.5M136.8 478.0V449.0M137.6 478.0V453.2M140.0 478.0V474.2M140.8 478.0V447.4M143.2 478.0V458.9M144.0 478.0V459.8M146.4 478.0V471.2M147.2 478.0V463.2M148.0 478.0V477.4M148.8 478.0V452.0M149.6 478.0V458.4M150.4 478.0V476.4M151.2 478.0V474.1M152.0 478.0V468.6M152.8 478.0V470.8M153.6 478.0V474.5M154.4 478.0V477.7M155.2 478.0V466.8M157.6 478.0V456.0M158.4 478.0V468.2M160.0 478.0V469.4M160.8 478.0V451.8M161.6 478.0V457.9M162.4 478.0V456.9M163.2 478.0V446.2M164.0 478.0V457.9M164.8 478.0V476.8M165.6 478.0V453.3M170.4 478.0V461.1M172.0 478.0V472.7M172.8 478.0V457.3M173.6 478.0V462.7M174.4 478.0V468.4M175.2 478.0V456.8M176.8 478.0V463.4M177.6 478.0V466.0M178.4 478.0V457.9M180.0 478.0V465.1M180.8 478.0V466.1M181.6 478.0V448.0M182.4 478.0V451.9M184.0 478.0V477.5M187.2 478.0V465.0M192.0 478.0V456.1M192.8 478.0V461.4M196.0 478.0V472.6M200.0 478.0V450.6M200.8 478.0V447.9M201.6 478.0V442.0M202.4 478.0V470.7M203.2 478.0V450.7M204.0 478.0V465.5M204.8 478.0V442.3M205.6 478.0V474.1M206.4 478.0V442.0M208.0 478.0V453.3M208.8 478.0V466.4M209.6 478.0V468.5M210.4 478.0V464.2M213.6 478.0V465.0M214.4 478.0V468.4M216.8 478.0V468.3M217.6 478.0V460.1M220.0 478.0V475.4M270.4 478.0V463.9M271.2 478.0V453.4M274.4 478.0V468.7M275.2 478.0V462.8M280.0 478.0V460.3M280.8 478.0V475.9M284.8 478.0V465.2M285.6 478.0V477.5M288.8 478.0V464.7M289.6 478.0V473.6M306.4 478.0V468.0M307.2 478.0V477.4M340.0 478.0V459.4" stroke="#6418ee" stroke-width="1.5" fill="none"/>
<path d="M216.0 478.0L216.0 450.0L217.0 448.8L218.5 452.0L219.7 455.0L221.0 450.0L222.8 445.7L224.0 447.0L225.5 440.0L226.4 436.4L227.5 442.0L228.4 445.7L230.0 443.0L231.0 448.8L232.5 442.0L233.5 438.0L235.7 434.8L237.0 438.0L238.3 440.5L240.0 442.0L241.4 444.1L243.0 450.0L245.0 455.0L247.0 452.0L249.0 450.0L250.7 448.8L252.0 460.0L253.0 468.0L254.0 478.0L236.0 478.0L230.0 452.0L224.5 478.0Z" fill="#6418ee"/>
<path d="M274.0 478.0V458.7M274.8 478.0V475.1M287.6 478.0V463.7M298.0 478.0V459.3M298.8 478.0V464.2M299.6 478.0V464.6M300.4 478.0V454.9M301.2 478.0V448.6M302.0 478.0V453.2M302.8 478.0V465.7M303.6 478.0V470.0M304.4 478.0V472.0M305.2 478.0V448.8M306.0 478.0V466.5M306.8 478.0V466.3M307.6 478.0V474.9M308.4 478.0V477.2M309.2 478.0V451.9M310.0 478.0V460.7M310.8 478.0V473.2M311.6 478.0V458.0M312.4 478.0V466.6M313.2 478.0V464.3M314.0 478.0V453.3M314.8 478.0V448.9M315.6 478.0V467.8M316.4 478.0V469.3M317.2 478.0V473.3M318.0 478.0V452.7M318.8 478.0V446.5M319.6 478.0V472.0M320.4 478.0V469.2M321.2 478.0V466.6M322.0 478.0V473.3M322.8 478.0V466.4M323.6 478.0V454.6M324.4 478.0V476.4M325.2 478.0V461.0M326.0 478.0V466.7M326.8 478.0V456.8M328.4 478.0V450.9M329.2 478.0V456.4M330.0 478.0V458.8M331.6 478.0V472.5M332.4 478.0V465.6M333.2 478.0V451.8M334.0 478.0V456.0M334.8 478.0V454.5M335.6 478.0V461.1M336.4 478.0V451.5M337.2 478.0V463.8M338.0 478.0V477.9M338.8 478.0V468.4M339.6 478.0V461.0M341.2 478.0V469.4M342.0 478.0V461.6M343.6 478.0V462.7M344.4 478.0V452.5M345.2 478.0V467.9M346.0 478.0V457.4M346.8 478.0V456.2M347.6 478.0V475.2M349.2 478.0V450.3M350.0 478.0V460.6M350.8 478.0V472.0M351.6 478.0V463.7M352.4 478.0V471.0M353.2 478.0V454.6M354.0 478.0V460.6M354.8 478.0V448.4M355.6 478.0V450.5M356.4 478.0V475.8M357.2 478.0V454.5M358.0 478.0V466.4M358.8 478.0V446.3M359.6 478.0V449.6M360.4 478.0V456.2M361.2 478.0V456.4M362.0 478.0V455.2M362.8 478.0V458.4M363.6 478.0V462.3M364.4 478.0V449.1M365.2 478.0V456.7M366.0 478.0V469.9M366.8 478.0V456.9M367.6 478.0V458.0M368.4 478.0V463.9M369.2 478.0V461.9M370.0 478.0V456.3M370.8 478.0V461.4M371.6 478.0V469.4M372.4 478.0V454.6M373.2 478.0V448.8" stroke="#000" stroke-width="1.5" fill="none"/>
<path d="M373.0 459.1L373.8 459.1L374.6 459.9L375.4 459.2L376.2 458.1L377.0 458.6L377.8 458.7L378.6 452.0L379.4 458.8L380.2 457.1L381.0 457.6L381.8 457.5L382.6 457.1L383.4 449.0L384.2 457.0L385.0 456.8L385.8 454.6L386.6 454.9L387.4 449.3L388.2 454.0L389.0 452.5L389.8 446.3L390.6 447.5L391.4 446.6L392.2 452.7L393.0 450.9L393.8 452.2L394.6 445.1L395.4 449.0L396.2 450.6L397.0 450.6L397.8 450.4L398.6 449.0L399.4 451.9L400.2 450.2L401.0 451.9L401.8 451.6L402.6 451.2L403.4 451.5L404.2 451.3L405.0 450.3L405.8 449.6L406.6 451.2L407.4 450.6L408.2 449.7L409.0 450.9L409.8 446.8L410.6 450.6L411.4 450.9L412.2 450.8L413.0 449.2L413.8 449.6L414.6 449.2L415.4 444.1L416.2 449.9L417.0 450.5L417.8 450.5L418.6 443.3L419.4 443.3L420.2 448.7L421.0 448.9L421.8 448.5L422.6 449.2L423.4 448.8L424.2 447.7L425.0 449.0L425.8 449.0L426.6 448.6L427.4 448.8L428.2 450.0L429.0 449.8L429.8 449.8L430.6 449.4L431.4 450.1L432.2 449.3L433.0 449.3L433.8 449.0L434.6 448.2L435.4 449.0L436.2 446.2L437.0 449.2L437.8 449.1L438.6 447.7L439.4 448.3L440.2 448.0L441.0 447.9L441.8 447.5L442.6 447.7L443.4 447.1L444.2 447.5L445.0 448.3L445.8 447.6L446.6 448.2L447.4 447.5L448.2 448.6L449.0 447.7L449.8 446.6L450.6 448.2L451.4 446.8L452.2 448.2L453.0 447.7L453.8 446.8L454.6 448.1L455.4 446.7L456.2 447.8L457.0 446.4L457.8 446.7L458.6 446.5L459.4 447.4L460.2 446.7L461.0 446.8L461.8 447.1L462.6 447.2L463.4 447.4L464.2 447.1L465.0 447.1L465.8 446.7L466.6 447.5L467.4 445.7L468.2 445.6L469.0 447.1L469.8 446.7L470.6 447.1L471.4 445.5L472.2 445.5L473.0 447.1L473.8 445.7L474.6 445.3L475.4 439.4L476.2 446.4L477.0 446.4L477.8 445.6L478.6 446.6L479.4 445.8L480.2 446.0L481.0 446.9L481.8 446.2L482.6 445.8L483.4 447.1L484.2 445.5L485.0 441.0L485.8 447.1L486.6 446.6L487.4 446.0L488.2 446.3L489.0 446.9L489.8 446.4L490.6 446.0L491.4 444.2L492.2 444.6L493.0 447.0L493.8 446.6L494.6 447.4L495.4 448.0L496.2 447.1L497.0 447.1L497.8 441.8L498.6 446.8L499.4 446.8L500.2 447.2L501.0 447.4L501.8 447.5L502.6 448.2L503.4 447.5L504.2 447.8L505.0 447.6L505.8 447.8L506.6 447.8L507.4 448.0L508.2 449.2L509.0 448.3L509.8 448.8L510.6 448.1L511.4 447.8L512.2 448.3L513.0 449.0L513.8 448.7L514.6 448.8L515.4 449.6L516.2 448.8L517.0 444.1L517.8 448.5L518.6 448.9L519.4 448.9L520.2 449.3L521.0 449.5L521.8 449.6L522.6 448.9L523.4 448.3L524.2 444.5L525.0 448.6L525.8 449.2L526.6 448.8L527.4 448.4L528.2 448.8L529.0 449.2L529.8 448.4L530.6 449.1L531.4 449.7L532.2 449.9L533.0 450.3L533.8 449.2L534.6 448.5L535.4 449.5L536.2 448.6L537.0 448.9L537.8 449.1L538.6 449.2L539.4 450.3L540.2 449.9L541.0 450.2L541.8 450.0L542.6 448.3L543.4 450.1L544.2 449.0L545.0 450.0L545.8 449.6L546.6 450.1L547.4 448.8L548.2 449.5L549.0 449.0L549.8 448.9L550.6 448.5L551.4 448.5L552.2 449.0L553.0 448.4L553.8 443.8L554.6 448.4L555.4 445.9L556.2 450.3L557.0 443.6L557.8 450.5L558.6 449.9L559.4 449.9L560.2 451.2L561.0 451.4L561.8 451.8L562.6 451.4L563.4 451.7L564.2 451.3L565.0 452.7L565.8 451.6L566.6 451.9L567.4 446.3L568.2 450.3L569.0 452.4L569.8 453.6L570.6 453.6L571.4 449.6L572.2 450.8L573.0 452.8L573.8 453.6L574.6 453.5L575.4 453.6L576.2 455.2L577.0 455.5L577.8 454.9L578.6 454.9L579.4 455.9L580.2 456.0L581.0 455.5L581.8 455.3L582.6 456.4L583.4 455.5L584.2 456.9L585.0 455.4L585.8 456.2L586.0 460.5L585.2 459.0L584.4 460.2L583.6 460.3L582.8 459.8L582.0 458.4L581.2 459.6L580.4 460.3L579.6 459.6L578.8 459.0L578.0 458.6L577.2 458.0L576.4 458.5L575.6 459.5L574.8 457.4L574.0 458.3L573.2 457.9L572.4 456.7L571.6 456.8L570.8 456.7L570.0 456.1L569.2 455.9L568.4 457.5L567.6 456.0L566.8 456.7L566.0 456.1L565.2 456.0L564.4 455.6L563.6 454.4L562.8 454.3L562.0 454.3L561.2 455.7L560.4 455.3L559.6 455.7L558.8 454.9L558.0 453.6L557.2 454.2L556.4 454.2L555.6 453.1L554.8 453.3L554.0 454.2L553.2 452.8L552.4 452.4L551.6 454.4L550.8 453.1L550.0 453.8L549.2 454.6L548.4 452.8L547.6 452.9L546.8 453.1L546.0 453.0L545.2 453.5L544.4 452.4L543.6 454.2L542.8 454.7L542.0 452.8L541.2 453.3L540.4 453.2L539.6 454.0L538.8 453.3L538.0 454.4L537.2 454.6L536.4 452.9L535.6 452.6L534.8 453.8L534.0 452.4L533.2 453.3L532.4 452.8L531.6 454.3L530.8 453.3L530.0 454.3L529.2 453.7L528.4 454.1L527.6 453.9L526.8 454.2L526.0 454.1L525.2 454.2L524.4 453.2L523.6 452.7L522.8 452.9L522.0 454.3L521.2 452.6L520.4 454.1L519.6 452.4L518.8 452.2L518.0 453.9L517.2 453.8L516.4 453.9L515.6 452.8L514.8 453.5L514.0 453.6L513.2 452.3L512.4 452.0L511.6 451.7L510.8 452.3L510.0 453.3L509.2 451.9L508.4 453.3L507.6 452.8L506.8 453.5L506.0 451.8L505.2 453.4L504.4 452.9L503.6 451.0L502.8 451.5L502.0 451.1L501.2 451.5L500.4 452.1L499.6 452.9L498.8 452.6L498.0 451.2L497.2 451.8L496.4 451.5L495.6 450.3L494.8 450.9L494.0 451.3L493.2 451.3L492.4 451.7L491.6 450.7L490.8 452.2L490.0 452.0L489.2 450.4L488.4 450.0L487.6 450.1L486.8 450.4L486.0 450.6L485.2 450.4L484.4 450.8L483.6 451.0L482.8 449.2L482.0 449.4L481.2 450.1L480.4 450.2L479.6 450.7L478.8 450.7L478.0 449.7L477.2 450.4L476.4 449.6L475.6 450.2L474.8 451.1L474.0 450.9L473.2 449.2L472.4 451.0L471.6 450.7L470.8 451.5L470.0 449.6L469.2 449.5L468.4 450.3L467.6 452.0L466.8 450.5L466.0 451.1L465.2 450.3L464.4 451.1L463.6 451.8L462.8 450.8L462.0 450.3L461.2 451.6L460.4 450.4L459.6 450.3L458.8 450.7L458.0 451.2L457.2 450.8L456.4 452.8L455.6 452.2L454.8 452.5L454.0 452.3L453.2 451.5L452.4 450.9L451.6 450.9L450.8 451.3L450.0 451.9L449.2 452.3L448.4 452.9L447.6 453.4L446.8 453.3L446.0 452.8L445.2 453.1L444.4 453.8L443.6 453.8L442.8 453.1L442.0 453.3L441.2 453.7L440.4 453.8L439.6 453.1L438.8 453.3L438.0 454.4L437.2 452.9L436.4 453.2L435.6 454.8L434.8 453.8L434.0 454.1L433.2 453.7L432.4 453.0L431.6 454.4L430.8 455.1L430.0 454.4L429.2 453.7L428.4 453.7L427.6 453.7L426.8 455.7L426.0 455.2L425.2 455.7L424.4 455.8L423.6 454.0L422.8 455.3L422.0 454.5L421.2 454.9L420.4 454.7L419.6 455.6L418.8 455.4L418.0 455.0L417.2 456.9L416.4 457.2L415.6 456.7L414.8 457.7L414.0 457.1L413.2 456.4L412.4 458.1L411.6 457.7L410.8 457.5L410.0 457.0L409.2 459.0L408.4 457.8L407.6 459.6L406.8 458.0L406.0 458.3L405.2 459.3L404.4 459.6L403.6 460.3L402.8 459.0L402.0 458.7L401.2 460.5L400.4 459.6L399.6 459.2L398.8 459.9L398.0 460.2L397.2 459.7L396.4 462.3L395.6 462.1L394.8 461.7L394.0 461.7L393.2 460.9L392.4 462.4L391.6 462.1L390.8 463.5L390.0 462.2L389.2 462.8L388.4 464.3L387.6 465.1L386.8 464.4L386.0 464.2L385.2 465.4L384.4 466.5L383.6 464.7L382.8 465.6L382.0 465.9L381.2 467.5L380.4 468.6L379.6 467.8L378.8 469.5L378.0 468.0L377.2 468.7L376.4 469.5L375.6 471.5L374.8 471.6L374.0 471.4L373.2 474.2Z" fill="#000"/>
<g fill="#000"><circle cx="99.7" cy="473.8" r="1.35"/><circle cx="100.7" cy="452.7" r="1.35"/><circle cx="104.5" cy="450.8" r="1.35"/><circle cx="105.5" cy="447.0" r="1.35"/><circle cx="111.2" cy="441.2" r="1.35"/><circle cx="114.1" cy="445.0" r="1.35"/><circle cx="118.9" cy="456.5" r="1.35"/><circle cx="121.8" cy="462.3" r="1.35"/></g>
<g fill="#000"><circle cx="235.7" cy="431.7" r="1.3"/><circle cx="232.0" cy="438.4" r="1.3"/><circle cx="238.8" cy="438.4" r="1.3"/><circle cx="241.4" cy="444.1" r="1.3"/><circle cx="228.0" cy="447.2" r="1.3"/><circle cx="224.8" cy="452.9" r="1.3"/><circle cx="222.2" cy="461.2" r="1.3"/><circle cx="218.6" cy="468.4" r="1.3"/><circle cx="221.2" cy="470.5" r="1.3"/><circle cx="239.3" cy="458.1" r="1.3"/><circle cx="239.8" cy="467.4" r="1.3"/><circle cx="254.8" cy="461.2" r="1.3"/></g>
<g fill="#000"><circle cx="491.9" cy="470.3" r="1.2"/><circle cx="495.3" cy="469.4" r="1.2"/><circle cx="498.9" cy="467.1" r="1.2"/><circle cx="504.2" cy="464.7" r="1.2"/><circle cx="507.4" cy="463.9" r="1.2"/><circle cx="510.5" cy="461.9" r="1.2"/><circle cx="515.6" cy="460.7" r="1.2"/><circle cx="519.6" cy="458.9" r="1.2"/><circle cx="522.8" cy="457.5" r="1.2"/><circle cx="527.2" cy="457.5" r="1.2"/><circle cx="531.3" cy="455.8" r="1.2"/><circle cx="534.9" cy="454.3" r="1.2"/><circle cx="538.3" cy="452.0" r="1.2"/><circle cx="543.3" cy="451.5" r="1.2"/><circle cx="546.9" cy="449.4" r="1.2"/><circle cx="550.7" cy="448.5" r="1.2"/><circle cx="554.8" cy="448.4" r="1.2"/><circle cx="558.7" cy="447.4" r="1.2"/><circle cx="563.9" cy="445.0" r="1.2"/><circle cx="567.2" cy="444.7" r="1.2"/><circle cx="570.7" cy="443.5" r="1.2"/><circle cx="576.1" cy="442.0" r="1.2"/><circle cx="579.7" cy="441.0" r="1.2"/></g>
<g fill="#000"><circle cx="522.0" cy="464.5" r="1.1"/><circle cx="499.6" cy="474.5" r="1.1"/><circle cx="494.6" cy="467.5" r="1.1"/><circle cx="512.3" cy="470.2" r="1.1"/><circle cx="495.8" cy="470.6" r="1.1"/><circle cx="510.0" cy="475.0" r="1.1"/><circle cx="491.1" cy="477.1" r="1.1"/><circle cx="496.9" cy="474.3" r="1.1"/><circle cx="510.3" cy="474.7" r="1.1"/><circle cx="497.3" cy="464.4" r="1.1"/><circle cx="493.5" cy="473.6" r="1.1"/><circle cx="511.4" cy="462.1" r="1.1"/></g>
<g fill="#000"><circle cx="502.1" cy="477.8" r="1.1"/><circle cx="506.9" cy="474.1" r="1.1"/><circle cx="509.5" cy="472.3" r="1.1"/><circle cx="513.2" cy="470.8" r="1.1"/><circle cx="515.1" cy="466.7" r="1.1"/><circle cx="520.2" cy="465.3" r="1.1"/><circle cx="523.3" cy="462.0" r="1.1"/><circle cx="525.8" cy="461.4" r="1.1"/><circle cx="528.5" cy="459.7" r="1.1"/></g>
<g fill="#000"><circle cx="510.1" cy="478.1" r="1.1"/><circle cx="511.4" cy="474.1" r="1.1"/><circle cx="516.8" cy="473.7" r="1.1"/><circle cx="519.9" cy="470.7" r="1.1"/><circle cx="523.2" cy="469.5" r="1.1"/><circle cx="526.7" cy="466.5" r="1.1"/><circle cx="529.8" cy="465.1" r="1.1"/><circle cx="534.0" cy="464.6" r="1.1"/></g>
<g fill="#000"><circle cx="495.4" cy="474.1" r="1.1"/><circle cx="499.1" cy="472.2" r="1.1"/><circle cx="503.2" cy="468.8" r="1.1"/><circle cx="505.1" cy="468.6" r="1.1"/><circle cx="509.1" cy="465.1" r="1.1"/><circle cx="514.3" cy="463.6" r="1.1"/></g>
<path d="M323.2 478.0L324.0 460.0L325.5 450.0L328.5 443.0L331.6 438.5L336.6 435.5L341.8 434.3L347.0 434.5L352.1 437.0L357.3 440.5L362.5 445.0L366.6 451.0L370.7 459.0L372.5 466.0L373.5 471.0L373.2 478.0L374.4 478.0L371.8 468.4L366.6 458.0L361.4 449.8L356.3 444.6L351.1 440.5L345.9 439.5L340.8 440.5L335.6 444.1L331.4 450.9L330.0 455.0L329.0 465.0L329.4 478.0Z" fill="#0c10f0"/>
<path d="M324.5 457.7V445.8M326.1 449.6V446.1M328.5 444.0V442.7M329.3 442.8V441.0M330.1 441.7V439.6M331.7 439.4V438.4M333.3 438.5V437.8M334.1 438.0V435.8M334.9 437.5V435.2M336.5 436.6V434.5M339.7 435.8V431.0M340.5 435.6V430.5M342.9 435.3V429.9M343.7 435.4V432.3M344.5 435.4V431.1M345.3 435.4V430.9M346.9 435.5V433.0M348.5 436.2V435.2M350.9 437.4V437.8M352.5 438.3V439.3M355.7 440.4V439.6M357.3 441.5V441.7M359.7 443.6V443.1M360.5 444.3V443.8M361.3 445.0V442.7M363.7 447.8V447.6M364.5 448.9V445.7M366.1 451.3V448.4M366.9 452.6V450.8M368.5 455.7V452.8M369.3 457.3V455.5M370.1 458.8V456.0M372.5 467.0V460.5" stroke="#0c10f0" stroke-width="1.0" fill="none"/>
<path d="M374.0 443.0V478.0" stroke="#0c10f0" stroke-width="1.5" fill="none"/>
<g fill="#000"><circle cx="98.6" cy="136.0" r="1.3"/><circle cx="98.6" cy="142.5" r="1.3"/></g>
<g fill="#000"><circle cx="102.5" cy="170.0" r="1.3"/><circle cx="102.5" cy="174.5" r="1.3"/><circle cx="102.5" cy="179.0" r="1.3"/><circle cx="102.5" cy="183.5" r="1.3"/><circle cx="102.5" cy="188.0" r="1.3"/><circle cx="102.5" cy="192.0" r="1.3"/><circle cx="100.2" cy="172.0" r="1.3"/><circle cx="100.2" cy="177.0" r="1.3"/><circle cx="100.2" cy="182.0" r="1.3"/><circle cx="100.2" cy="187.0" r="1.3"/><circle cx="100.2" cy="191.0" r="1.3"/></g>
<g fill="#000"><circle cx="106.5" cy="152.4" r="1.3"/><circle cx="109.0" cy="149.7" r="1.3"/><circle cx="111.8" cy="148.4" r="1.3"/><circle cx="115.0" cy="144.5" r="1.3"/><circle cx="118.3" cy="143.2" r="1.3"/><circle cx="121.0" cy="142.5" r="1.3"/><circle cx="124.3" cy="134.0" r="1.3"/><circle cx="126.2" cy="131.3" r="1.3"/><circle cx="127.3" cy="121.0" r="1.3"/></g>
<g fill="#000"><circle cx="127.3" cy="112.4" r="1.3"/><circle cx="129.0" cy="98.0" r="1.3"/><circle cx="131.0" cy="83.2" r="1.3"/><circle cx="133.0" cy="68.0" r="1.3"/><circle cx="134.6" cy="58.8" r="1.3"/><circle cx="136.8" cy="43.8" r="1.3"/><circle cx="138.6" cy="34.8" r="1.3"/><circle cx="140.2" cy="27.0" r="1.3"/><circle cx="141.7" cy="20.2" r="1.3"/><circle cx="142.4" cy="31.4" r="1.3"/><circle cx="142.9" cy="40.5" r="1.3"/><circle cx="143.5" cy="50.6" r="1.3"/><circle cx="144.2" cy="60.8" r="1.3"/><circle cx="145.1" cy="69.8" r="1.3"/><circle cx="146.2" cy="78.8" r="1.3"/><circle cx="148.0" cy="87.8" r="1.3"/></g>
<g fill="#000"><circle cx="152.3" cy="95.8" r="1.25"/><circle cx="155.9" cy="98.8" r="1.25"/><circle cx="159.7" cy="101.2" r="1.25"/><circle cx="162.0" cy="105.6" r="1.25"/><circle cx="165.3" cy="108.4" r="1.25"/><circle cx="169.6" cy="111.7" r="1.25"/><circle cx="172.9" cy="114.7" r="1.25"/><circle cx="176.2" cy="117.2" r="1.25"/><circle cx="179.9" cy="120.8" r="1.25"/><circle cx="183.4" cy="123.5" r="1.25"/><circle cx="187.2" cy="125.5" r="1.25"/><circle cx="191.3" cy="128.4" r="1.25"/><circle cx="194.8" cy="130.0" r="1.25"/><circle cx="199.4" cy="132.8" r="1.25"/><circle cx="203.2" cy="135.7" r="1.25"/><circle cx="207.2" cy="138.1" r="1.25"/><circle cx="210.9" cy="140.0" r="1.25"/><circle cx="215.2" cy="141.8" r="1.25"/><circle cx="220.1" cy="142.3" r="1.25"/><circle cx="223.6" cy="143.9" r="1.25"/><circle cx="229.0" cy="145.3" r="1.25"/><circle cx="233.1" cy="146.3" r="1.25"/><circle cx="237.4" cy="147.4" r="1.25"/><circle cx="241.7" cy="148.6" r="1.25"/><circle cx="246.5" cy="150.0" r="1.25"/><circle cx="251.1" cy="150.7" r="1.25"/><circle cx="255.9" cy="151.1" r="1.25"/><circle cx="260.3" cy="150.4" r="1.25"/><circle cx="265.1" cy="151.7" r="1.25"/><circle cx="269.8" cy="151.5" r="1.25"/><circle cx="274.1" cy="151.4" r="1.25"/><circle cx="278.9" cy="152.1" r="1.25"/><circle cx="282.8" cy="151.5" r="1.25"/><circle cx="288.1" cy="152.6" r="1.25"/><circle cx="291.8" cy="152.4" r="1.25"/><circle cx="296.8" cy="151.6" r="1.25"/><circle cx="301.2" cy="152.3" r="1.25"/><circle cx="306.5" cy="151.5" r="1.25"/><circle cx="310.8" cy="151.4" r="1.25"/><circle cx="315.5" cy="151.6" r="1.25"/><circle cx="320.3" cy="152.3" r="1.25"/><circle cx="324.5" cy="152.2" r="1.25"/><circle cx="328.8" cy="151.0" r="1.25"/><circle cx="333.8" cy="150.7" r="1.25"/><circle cx="337.9" cy="151.0" r="1.25"/><circle cx="343.0" cy="150.4" r="1.25"/><circle cx="346.9" cy="151.0" r="1.25"/><circle cx="351.8" cy="150.9" r="1.25"/><circle cx="357.1" cy="150.0" r="1.25"/><circle cx="361.1" cy="149.7" r="1.25"/><circle cx="365.9" cy="149.1" r="1.25"/><circle cx="370.4" cy="148.5" r="1.25"/><circle cx="375.4" cy="147.7" r="1.25"/><circle cx="379.3" cy="147.3" r="1.25"/><circle cx="383.6" cy="146.1" r="1.25"/><circle cx="389.1" cy="145.7" r="1.25"/><circle cx="393.1" cy="144.7" r="1.25"/><circle cx="397.6" cy="144.9" r="1.25"/><circle cx="401.7" cy="144.4" r="1.25"/><circle cx="407.0" cy="143.3" r="1.25"/><circle cx="411.5" cy="143.3" r="1.25"/><circle cx="416.2" cy="142.7" r="1.25"/><circle cx="420.8" cy="142.7" r="1.25"/><circle cx="424.5" cy="141.5" r="1.25"/><circle cx="429.9" cy="142.1" r="1.25"/><circle cx="434.0" cy="141.0" r="1.25"/><circle cx="439.0" cy="140.4" r="1.25"/><circle cx="443.3" cy="139.9" r="1.25"/><circle cx="447.8" cy="139.8" r="1.25"/><circle cx="452.3" cy="139.2" r="1.25"/><circle cx="457.5" cy="138.3" r="1.25"/><circle cx="461.8" cy="138.8" r="1.25"/><circle cx="466.1" cy="137.8" r="1.25"/><circle cx="471.3" cy="137.4" r="1.25"/><circle cx="475.1" cy="137.2" r="1.25"/><circle cx="480.3" cy="136.4" r="1.25"/><circle cx="484.5" cy="136.7" r="1.25"/><circle cx="489.7" cy="136.8" r="1.25"/><circle cx="494.3" cy="136.5" r="1.25"/><circle cx="498.3" cy="137.1" r="1.25"/><circle cx="503.5" cy="136.9" r="1.25"/><circle cx="507.3" cy="136.5" r="1.25"/><circle cx="512.3" cy="136.6" r="1.25"/><circle cx="517.2" cy="137.3" r="1.25"/><circle cx="521.1" cy="136.7" r="1.25"/><circle cx="526.4" cy="137.1" r="1.25"/><circle cx="531.0" cy="136.8" r="1.25"/><circle cx="534.8" cy="136.7" r="1.25"/><circle cx="540.2" cy="136.7" r="1.25"/><circle cx="544.3" cy="136.9" r="1.25"/><circle cx="549.0" cy="136.9" r="1.25"/><circle cx="554.2" cy="136.6" r="1.25"/><circle cx="557.7" cy="137.5" r="1.25"/><circle cx="563.3" cy="137.6" r="1.25"/><circle cx="567.4" cy="137.5" r="1.25"/><circle cx="572.6" cy="136.7" r="1.25"/><circle cx="577.0" cy="137.4" r="1.25"/><circle cx="581.5" cy="137.0" r="1.25"/><circle cx="585.6" cy="136.8" r="1.25"/></g>
<polyline points="97.5,160.0 98.0,176.0 98.6,146.0 98.6,193.0 99.5,172.0 100.5,168.0 102.0,163.0 104.5,157.6 105.5,160.0 107.2,155.7 108.5,158.0 109.8,157.0 111.0,154.0 112.4,155.0 113.5,159.0 115.0,158.3 116.5,161.0 117.7,161.6 119.0,158.0 120.3,156.3 121.6,153.0 122.5,157.0 123.6,161.0 124.6,153.0 125.6,145.8 126.6,136.0 127.5,127.0" fill="none" stroke="#000" stroke-width="2.0" stroke-linejoin="round" />
<path d="M127.5 127.0C127.7 123.7 128.1 113.0 128.6 107.0C129.1 101.0 130.1 96.5 130.7 91.2C131.3 85.9 131.7 80.7 132.3 75.4C132.9 70.1 133.8 64.1 134.5 59.6C135.2 55.1 135.6 50.9 136.2 48.5C136.8 46.1 137.3 43.9 137.9 45.0C138.5 46.1 139.1 50.3 139.5 55.0C139.9 59.7 140.4 70.2 140.6 73.2L141.7 89L143.1 99.1" fill="none" stroke="#000" stroke-width="2.1" stroke-linejoin="round"/>
<path d="M143.1 99.1C143.6 98.1 145.0 93.2 145.8 93.0C146.6 92.8 146.9 95.7 148.0 98.0C149.1 100.3 150.7 104.0 152.6 107.0C154.5 110.0 157.1 113.4 159.3 116.0C161.6 118.6 163.8 120.7 166.1 122.8C168.4 124.9 170.8 128.0 172.9 128.4C175.0 128.8 177.0 126.3 178.5 125.0C180.0 123.7 180.9 120.5 182.0 120.7C183.1 120.9 183.9 124.0 185.3 126.0C186.8 128.0 188.9 130.8 190.7 132.7C192.5 134.6 194.0 135.8 196.0 137.3C198.0 138.9 200.5 140.6 202.7 142.0C204.9 143.4 207.1 144.7 209.3 146.0C211.5 147.3 214.2 149.0 216.0 150.0C217.8 151.0 219.5 151.5 220.2 151.8" fill="none" stroke="#000" stroke-width="2.1" stroke-linejoin="round" />
<polyline points="220.2,151.6 220.9,152.2 221.6,153.7 222.3,152.4 223.0,152.8 223.7,153.4 224.4,152.4 225.1,153.7 225.8,154.4 226.5,155.2 227.2,153.3 227.9,154.2 228.6,153.8 229.3,156.4 230.0,156.3 230.7,154.5 231.4,157.8 232.1,158.0 232.8,157.2 233.5,157.3 234.2,156.1 234.9,155.9 235.6,157.7 236.3,156.5 237.0,157.1 237.7,157.5 238.4,157.1 239.1,158.6 239.8,158.7 240.5,160.1 241.2,159.2 241.9,159.7 242.6,159.3 243.3,160.0 244.0,159.4 244.7,159.0 245.4,161.4 246.1,161.5 246.8,161.1 247.5,160.8 248.2,159.7 248.9,159.5 249.6,159.8 250.3,159.2 251.0,161.6 251.7,160.5 252.4,162.0 253.1,160.7 253.8,162.6 254.5,162.4 255.2,159.8 255.9,160.5 256.6,162.9 257.3,161.6 258.0,163.3 258.7,161.6 259.4,160.6 260.1,162.5 260.8,163.1 261.5,161.5 262.2,161.1 262.9,161.9 263.6,164.0 264.3,163.4 265.0,161.4 265.7,161.9 266.4,161.5 267.1,161.4 267.8,163.8 268.5,161.8 269.2,163.1 269.9,162.8 270.6,162.0 271.3,163.8 272.0,161.9 272.7,163.6 273.4,162.0 274.1,163.0 274.8,162.4 275.5,162.6 276.2,164.9 276.9,164.4 277.6,162.9 278.3,164.8 279.0,162.7 279.7,163.3 280.4,164.8 281.1,164.2 281.8,162.5 282.5,165.4 283.2,163.0 283.9,163.1 284.6,164.8 285.3,163.5 286.0,163.4 286.7,162.7 287.4,162.8 288.1,164.5 288.8,163.4 289.5,164.6 290.2,163.9 290.9,164.2 291.6,165.9 292.3,164.4 293.0,164.7 293.7,165.6 294.4,163.3 295.1,163.2 295.8,165.6 296.5,165.2 297.2,163.4 297.9,163.1 298.6,164.8 299.3,165.4 300.0,163.0 300.7,165.3 301.4,165.1 302.1,164.1 302.8,163.5 303.5,162.4 304.2,162.2 304.9,165.1 305.6,162.7 306.3,164.1 307.0,162.7 307.7,164.4 308.4,163.6 309.1,162.6 309.8,162.2 310.5,163.9 311.2,161.8 311.9,162.2 312.6,163.2 313.3,164.1 314.0,163.3 314.7,162.2 315.4,164.2 316.1,161.8 316.8,161.2 317.5,161.9 318.2,162.5 318.9,161.2 319.6,161.5 320.3,162.1 321.0,162.7 321.7,161.2 322.4,161.9 323.1,163.5 323.8,163.8 324.5,162.7 325.2,162.8 325.9,162.4 326.6,160.9 327.3,160.5 328.0,160.4 328.7,163.2 329.4,162.5 330.1,163.3 330.8,160.1 331.5,162.0 332.2,161.4 332.9,162.1 333.6,160.7 334.3,162.8 335.0,159.7 335.7,161.1 336.4,161.6 337.1,162.0 337.8,161.4 338.5,161.2 339.2,161.4 339.9,161.6 340.6,159.8 341.3,160.8 342.0,161.4 342.7,161.3 343.4,159.8 344.1,160.9 344.8,161.1 345.5,160.1 346.2,160.2 346.9,159.4 347.6,160.0 348.3,160.0 349.0,158.3 349.7,160.0 350.4,161.1 351.1,160.7 351.8,160.2 352.5,159.0 353.2,160.1 353.9,159.5 354.6,159.0 355.3,160.3 356.0,157.8 356.7,159.9 357.4,157.5 358.1,159.3 358.8,158.9 359.5,157.9 360.2,159.3 360.9,158.5 361.6,158.8 362.3,159.6 363.0,157.4 363.7,156.5 364.4,157.3 365.1,158.4 365.8,156.7 366.5,156.5 367.2,158.7 367.9,157.8 368.6,157.0 369.3,158.3 370.0,156.3 370.7,157.3 371.4,155.7 372.1,156.3 372.8,157.4 373.5,157.6 374.2,157.3 374.9,155.6 375.6,156.1 376.3,155.2 377.0,154.5 377.7,155.5 378.4,156.4 379.1,156.3 379.8,155.8 380.5,156.4 381.2,154.1 381.9,153.7 382.6,154.4 383.3,153.7 384.0,153.4 384.7,153.9 385.4,154.5 386.1,153.9 386.8,153.2 387.5,154.8 388.2,155.1 388.9,153.3 389.6,152.0 390.3,151.7 391.0,154.2 391.7,151.5 392.4,153.5 393.1,152.9 393.8,151.9 394.5,153.3 395.2,150.7 395.9,151.0 396.6,151.9 397.3,150.4 398.0,152.8 398.7,150.8 399.4,150.3 400.1,149.9 400.8,151.6 401.5,150.9 402.2,151.4 402.9,151.3 403.6,151.7 404.3,152.0 405.0,151.0 405.7,149.3 406.4,150.1 407.1,149.0 407.8,148.3 408.5,149.7 409.2,150.3 409.9,148.5 410.6,148.7 411.3,148.8 412.0,149.8 412.7,149.1 413.4,149.2 414.1,149.5 414.8,148.3 415.5,149.4 416.2,149.6 416.9,146.9 417.6,149.5 418.3,148.7 419.0,146.7 419.7,147.6 420.4,148.1 421.1,148.9 421.8,147.1 422.5,147.7 423.2,148.6 423.9,148.2 424.6,148.6 425.3,147.0 426.0,147.5 426.7,146.0 427.4,147.6 428.1,147.8 428.8,147.1 429.5,147.3 430.2,145.6 430.9,147.7 431.6,147.9 432.3,147.8 433.0,146.3 433.7,147.0 434.4,145.4 435.1,147.2 435.8,147.0 436.5,145.3 437.2,144.3 437.9,145.4 438.6,145.7 439.3,146.3 440.0,145.3 440.7,143.8 441.4,146.2 442.1,143.7 442.8,146.0 443.5,143.9 444.2,144.3 444.9,145.7 445.6,143.5 446.3,143.5 447.0,144.6 447.7,145.2 448.4,145.6 449.1,145.2 449.8,146.0 450.5,144.6 451.2,146.1 451.9,143.3 452.6,143.8 453.3,144.8 454.0,144.0 454.7,145.5 455.4,145.2 456.1,144.8 456.8,145.9 457.5,145.0 458.2,144.2 458.9,144.5 459.6,146.0 460.3,146.2 461.0,144.0 461.7,146.1 462.4,146.5 463.1,145.1 463.8,145.2 464.5,144.1 465.2,145.2 465.9,145.1 466.6,145.4 467.3,143.6 468.0,146.6 468.7,145.2 469.4,144.9 470.1,146.2 470.8,145.3 471.5,145.1 472.2,145.7 472.9,143.6 473.6,145.1 474.3,144.6 475.0,146.3 475.7,146.2 476.4,144.0 477.1,144.6 477.8,143.5 478.5,144.4 479.2,145.6 479.9,145.8 480.6,144.4 481.3,143.9 482.0,143.4 482.7,144.7 483.4,145.7 484.1,143.1 484.8,145.1 485.5,142.7 486.2,143.2 486.9,143.2 487.6,144.6 488.3,143.4 489.0,143.5 489.7,144.3 490.4,142.6 491.1,144.6 491.8,142.6 492.5,143.8 493.2,142.9 493.9,142.7 494.6,143.7 495.3,143.3 496.0,143.1 496.7,143.2 497.4,143.5 498.1,142.3 498.8,142.4 499.5,143.7 500.2,143.8 500.9,143.4 501.6,144.5 502.3,143.7 503.0,144.5 503.7,142.5 504.4,144.1 505.1,144.4 505.8,144.7 506.5,142.8 507.2,142.8 507.9,144.7 508.6,142.5 509.3,145.0 510.0,144.7 510.7,142.3 511.4,142.6 512.1,144.2 512.8,142.7 513.5,142.2 514.2,144.5 514.9,143.2 515.6,144.4 516.3,142.3 517.0,143.2 517.7,144.1 518.4,142.0 519.1,142.6 519.8,144.1 520.5,144.8 521.2,145.0 521.9,142.3 522.6,143.6 523.3,144.4 524.0,143.6 524.7,144.2 525.4,142.6 526.1,142.2 526.8,142.3 527.5,142.1 528.2,143.8 528.9,143.7 529.6,143.8 530.3,142.5 531.0,142.6 531.7,142.7 532.4,144.7 533.1,145.2 533.8,145.0 534.5,142.4 535.2,142.3 535.9,145.1 536.6,143.6 537.3,144.5 538.0,143.3 538.7,144.1 539.4,144.5 540.1,144.5 540.8,145.3 541.5,143.7 542.2,146.2 542.9,146.9 543.6,145.1 544.3,146.3 545.0,147.4 545.7,146.7 546.4,146.2 547.1,146.1 547.8,147.2 548.5,145.6 549.2,148.5 549.9,148.2 550.6,147.9 551.3,148.4 552.0,147.6 552.7,146.9 553.4,147.5 554.1,147.2 554.8,148.7 555.5,148.2 556.2,146.4 556.9,148.5 557.6,148.0 558.3,148.1 559.0,148.2 559.7,146.9 560.4,148.5 561.1,148.4 561.8,147.8 562.5,148.1 563.2,148.0 563.9,146.9 564.6,147.9 565.3,145.8 566.0,146.7 566.7,147.1 567.4,145.6 568.1,146.7 568.8,147.6 569.5,147.6 570.2,146.3 570.9,148.6 571.6,147.7 572.3,146.7 573.0,147.7 573.7,147.4 574.4,147.3 575.1,146.8 575.8,148.8 576.5,147.7 577.2,147.8 577.9,148.0 578.6,148.7 579.3,145.7 580.0,147.6 580.7,148.0 581.4,146.4 582.1,146.9 582.8,145.8 583.5,146.2 584.2,146.8 584.9,145.9 585.6,146.4" fill="none" stroke="#000" stroke-width="2.4" stroke-linejoin="round" />
<path d="M225.6 153.9V157.3M226.5 154.3V157.7M228.3 155.0V159.6M229.2 155.4V159.1M232.8 156.7V160.3M233.7 157.0V163.0M248.1 160.2V166.0M253.5 161.1V166.3M255.3 161.4V164.7M260.7 162.2V166.6M263.4 162.5V166.5M264.3 162.6V167.7M268.8 162.9V166.0M272.4 163.1V167.3M276.0 163.4V169.3M278.7 163.6V169.9M281.4 163.7V168.7M287.7 164.2V169.4M288.6 164.2V167.6M289.5 164.3V169.4M292.2 164.5V168.7M294.0 164.4V166.9M295.8 164.3V168.0M298.5 164.1V168.4M301.2 163.9V167.7M307.5 163.4V167.9M317.4 162.7V166.6M318.3 162.6V166.7M319.2 162.6V168.1M321.0 162.4V168.0M321.9 162.4V166.8M326.4 162.1V168.0M327.3 162.0V167.8M328.2 161.9V165.6M330.0 161.8V164.8M334.5 161.1V165.8M335.4 161.0V166.7M339.0 160.5V163.0M341.7 160.2V164.6M345.3 159.9V165.3M354.3 159.2V162.3M360.6 158.6V161.3M361.5 158.4V163.9M362.4 158.3V163.6M371.4 156.6V160.4M376.8 155.7V158.3M390.3 153.2V157.2M392.1 152.8V157.6M393.0 152.7V158.5M393.9 152.5V155.4M400.2 151.3V156.8M403.8 150.7V156.6M404.7 150.5V156.3M405.6 150.3V153.0M412.8 149.0V153.3M416.4 148.3V153.6M420.0 147.8V153.9M428.1 146.8V152.2M429.9 146.6V151.6M446.1 144.6V149.0M454.2 144.7V148.1M455.1 144.7V148.5M457.8 144.8V151.1M459.6 144.9V151.3M463.2 145.0V149.0M465.9 145.1V150.4M466.8 145.1V148.5M474.9 144.9V149.9M505.5 143.4V149.4M512.7 143.4V148.0M516.3 143.5V147.4M530.7 143.6V149.3M551.4 147.2V151.1M558.6 147.2V151.3M563.1 147.2V152.5M576.6 147.2V152.9M583.8 147.2V153.0" stroke="#000" stroke-width="1.3" fill="none"/>
<path d="M216.4 151.8V158.0M224.6 153.5V160.0M231.4 156.2V161.0M238.0 158.5V162.0M246.0 159.9V164.0M273.5 163.2V189.6M276.4 163.4V189.6M282.3 163.8V189.6M284.3 163.9V190.5M291.0 164.4V189.6M295.5 164.3V189.0M304.3 163.6V189.6M336.5 160.8V187.0M337.5 160.7V187.0M398.9 151.6V159.0M408.5 149.8V159.0" stroke="#000" stroke-width="2.0" fill="none"/>
<path d="M101.4 214.0V238.0M102.4 222.0V236.0" stroke="#000" stroke-width="1.8" fill="none"/>
<polyline points="97.2,222.0 98.3,217.2 99.5,211.0 100.7,209.0 103.0,209.6 105.4,213.7 107.0,222.0 109.0,231.5 111.0,238.0 112.5,243.3 114.0,236.0 115.0,231.5 116.5,236.0 118.5,229.0 120.0,233.0 121.0,226.0 122.0,230.0 123.2,224.3 124.5,228.0 125.5,222.0 126.8,219.6 127.5,224.0 128.0,214.0 129.0,205.4 130.0,212.0 131.0,206.0 132.2,213.0 133.0,203.0 134.0,205.0 135.0,191.0 136.2,167.4 137.4,156.5 138.5,156.0 139.8,160.3 141.0,170.0 141.7,174.5 144.5,176.4 148.0,177.5 152.0,177.5 154.5,176.0 156.0,173.0 157.5,176.0 159.0,180.0 159.8,200.0 160.5,208.0 161.0,207.0 161.8,209.1 162.6,207.3 163.4,209.9 164.2,208.6 165.0,206.4 165.8,201.0 166.6,207.4 167.4,206.6 168.2,209.7 169.0,203.5 169.8,199.9 170.6,208.1 171.4,201.5 172.2,208.5 173.0,208.1 173.8,199.1 174.6,207.6 175.4,207.5 176.2,210.6 177.0,210.0 177.8,203.5 178.6,210.3 179.4,210.7 180.2,208.5 181.0,208.7 181.8,211.1 182.6,199.3 183.4,211.1 184.2,208.9 185.0,210.1 185.8,209.8 186.6,210.2 187.4,208.5 188.2,212.2 189.0,211.0 189.8,201.1 190.6,212.5 191.4,212.4 192.2,213.6 193.0,211.8 193.8,214.6 194.6,214.5 195.4,212.6 196.2,215.0 197.0,211.7 197.8,215.0 198.6,210.3 199.4,213.4 200.2,207.4 201.0,216.6 201.8,216.1 202.6,214.2 203.4,215.6 204.2,213.7 205.0,217.5 205.8,217.7 206.6,215.7 207.4,217.6 208.2,216.2 209.0,209.9 209.8,211.1 210.6,216.8 211.4,216.5 212.2,215.8 213.0,213.5 213.8,208.2 214.6,214.7 215.4,210.3 216.2,215.5 217.0,215.1 217.8,214.9 218.6,217.3 219.4,214.4 220.2,218.0 221.0,211.4 221.8,214.5 222.6,215.0 223.4,215.4 224.2,209.7 225.0,215.7 225.8,215.3 226.6,216.2 227.4,214.0 228.2,215.5 229.0,217.3 229.8,215.9 230.6,206.9 231.4,216.6 232.2,213.4 233.0,207.9 233.8,214.7 234.6,214.0 235.4,213.7 236.2,211.2 237.0,208.8 237.8,202.9 238.6,205.8 239.4,214.5 240.2,209.3 241.0,208.4 241.8,212.2 242.6,204.2 243.4,210.6 244.2,217.1 245.0,213.6 245.8,214.7 246.6,215.6 247.4,214.4 248.2,215.9 249.0,214.6 249.8,216.2 250.6,212.1 251.4,213.5 252.2,212.8 253.0,212.6 253.8,216.5 254.6,205.7 255.4,215.6 256.2,214.0 257.0,215.6 257.8,216.9 258.6,213.9 259.4,213.5 260.2,213.8 261.0,214.2 261.8,217.2 262.6,215.0 263.4,214.4 264.2,215.0 265.0,214.2 265.8,213.6 266.6,217.6 267.4,213.6 268.2,213.8 269.0,216.8 269.8,213.8 270.6,214.3 271.4,216.0 272.2,207.8 273.0,217.9 273.8,214.6 274.6,216.3 275.4,215.6 276.2,218.4 277.0,211.8 277.8,215.3 278.6,218.4 279.4,208.0 280.2,218.0 281.0,217.5 281.8,217.1 282.6,217.2 283.4,218.6 284.2,209.7 285.0,219.0 285.8,213.2 286.6,218.5 287.4,219.3 288.2,217.0 289.0,219.0 289.8,219.8 290.6,211.2 291.4,212.5 292.2,220.0 293.0,218.7 293.8,220.4 294.6,222.3 295.4,222.8 296.2,220.1 297.0,223.4 297.8,223.7 298.6,221.8 299.4,224.5 300.2,220.7 301.0,223.7 301.8,224.6 302.6,222.3 303.4,224.2 304.2,223.1 305.0,224.9 305.8,226.0 306.6,218.6 307.4,224.2 308.2,227.3 309.0,218.4 309.8,219.5 310.6,216.9 311.4,227.2 312.2,222.3 313.0,227.4 313.8,229.3 314.6,229.2 315.4,228.6 316.2,229.2 317.0,229.8 317.8,228.0 318.6,230.8 319.4,231.9 320.2,233.4 321.0,223.8 321.8,232.4 322.6,234.6 323.4,231.6 324.2,234.6 325.0,231.6 325.8,235.4 326.6,234.2" fill="none" stroke="#6418ee" stroke-width="2.0" stroke-linejoin="round" />
<polyline points="327.0,245.0 328.9,216.0 330.5,236.0 332.0,218.0 333.5,232.0 335.0,244.0 336.5,236.0 338.0,230.0 339.5,241.0 341.0,231.0 342.5,244.0 344.0,232.0 345.5,244.0" fill="none" stroke="#6418ee" stroke-width="1.8" stroke-linejoin="round" />
<path d="M359.3 245.0V230.6M365.0 245.0V235.0M384.0 245.0V230.6M388.6 245.0V238.0M391.5 245.0V237.0" stroke="#6418ee" stroke-width="1.8" fill="none"/>
<polyline points="528.8,226.3 530.6,225.6 532.5,214.4 533.8,222.5 535.6,215.0 536.9,221.9 538.1,222.5 539.4,227.5 540.6,236.3 541.3,244.0 542.5,235.0 544.4,228.8 546.3,229.4 547.5,236.3 548.8,226.3 549.8,220.6 551.3,227.5 552.5,232.5 553.8,235.0 555.0,232.5 556.3,237.5 558.1,238.8 560.0,244.0" fill="none" stroke="#6418ee" stroke-width="2.0" stroke-linejoin="round" />
<polyline points="572.0,244.0 573.8,244.0 575.6,219.4 576.9,227.5 578.8,230.0 579.8,244.0" fill="none" stroke="#6418ee" stroke-width="2.0" stroke-linejoin="round" />
<path d="M131.2 245L131.2 219.4L133 216L135 211.4L136.5 205L138 206L139.4 211L139.4 245Z" fill="#0c14f0"/>
<polyline points="326.5,245.0 329.6,232.8 332.5,229.0 335.8,226.6 338.0,221.0 340.4,218.1 343.5,216.6 346.6,215.0 349.7,217.7 351.6,222.0 352.4,235.8 352.8,245.0" fill="none" stroke="#0c14f0" stroke-width="2.0" stroke-linejoin="round" />
<path d="M135.7 211.4L140.3 211.4L140.3 218.3L135.7 218.3Z" fill="#000"/>
<path d="M140.2 211.0V245.0M130.6 240.0V245.0" stroke="#000" stroke-width="1.3" fill="none"/>
<path d="M137.1 226.3V245" stroke="#d81818" stroke-width="1.8"/>
<polyline points="134.0,225.0 134.6,211.4 135.5,200.0 136.3,195.3 137.5,199.0 139.2,208.0 140.3,214.8 140.8,222.0" fill="none" stroke="#0c500c" stroke-width="1.8" stroke-linejoin="round" />
<polyline points="170.0,245.0 171.5,225.0 172.5,208.0 174.0,192.0 175.3,180.0 175.6,170.7 176.4,163.2 177.7,156.6 180.0,149.0 182.4,143.9 183.8,153.8 184.2,163.2 184.9,172.6 185.3,182.0 186.0,192.0 187.3,200.0 190.0,216.0 192.0,232.0 193.5,238.0 194.5,226.0 195.0,240.0 195.6,245.0" fill="none" stroke="#0c500c" stroke-width="2.0" stroke-linejoin="round" />
<g fill="#0c500c"><circle cx="140.4" cy="135.4" r="1.25"/><circle cx="141.0" cy="145.0" r="1.25"/><circle cx="141.6" cy="155.0" r="1.25"/><circle cx="142.2" cy="165.0" r="1.25"/><circle cx="142.8" cy="175.0" r="1.25"/><circle cx="143.3" cy="188.4" r="1.25"/><circle cx="143.6" cy="198.2" r="1.25"/><circle cx="143.8" cy="207.4" r="1.25"/><circle cx="144.0" cy="216.5" r="1.25"/><circle cx="144.3" cy="225.7" r="1.25"/><circle cx="144.8" cy="230.9" r="1.25"/><circle cx="145.5" cy="240.0" r="1.25"/></g>
<g stroke="#000" fill="none">
<path d="M80.0 12.5L90.0 12.5M586.5 12.5L576.5 12.5M80.0 32.8L85.5 32.8M586.5 32.8L581.0 32.8M80.0 27.7L85.5 27.7M586.5 27.7L581.0 27.7M80.0 24.1L85.5 24.1M586.5 24.1L581.0 24.1M80.0 21.2L85.5 21.2M586.5 21.2L581.0 21.2M80.0 18.9L85.5 18.9M586.5 18.9L581.0 18.9M80.0 17.0L85.5 17.0M586.5 17.0L581.0 17.0M80.0 15.3L85.5 15.3M586.5 15.3L581.0 15.3M80.0 13.8L85.5 13.8M586.5 13.8L581.0 13.8M80.0 41.6L90.0 41.6M586.5 41.6L576.5 41.6M80.0 61.9L85.5 61.9M586.5 61.9L581.0 61.9M80.0 56.8L85.5 56.8M586.5 56.8L581.0 56.8M80.0 53.1L85.5 53.1M586.5 53.1L581.0 53.1M80.0 50.3L85.5 50.3M586.5 50.3L581.0 50.3M80.0 48.0L85.5 48.0M586.5 48.0L581.0 48.0M80.0 46.1L85.5 46.1M586.5 46.1L581.0 46.1M80.0 44.4L85.5 44.4M586.5 44.4L581.0 44.4M80.0 42.9L85.5 42.9M586.5 42.9L581.0 42.9M80.0 70.6L90.0 70.6M586.5 70.6L576.5 70.6M80.0 90.9L85.5 90.9M586.5 90.9L581.0 90.9M80.0 85.8L85.5 85.8M586.5 85.8L581.0 85.8M80.0 82.2L85.5 82.2M586.5 82.2L581.0 82.2M80.0 79.4L85.5 79.4M586.5 79.4L581.0 79.4M80.0 77.1L85.5 77.1M586.5 77.1L581.0 77.1M80.0 75.1L85.5 75.1M586.5 75.1L581.0 75.1M80.0 73.4L85.5 73.4M586.5 73.4L581.0 73.4M80.0 72.0L85.5 72.0M586.5 72.0L581.0 72.0M80.0 99.7L90.0 99.7M586.5 99.7L576.5 99.7M80.0 120.0L85.5 120.0M586.5 120.0L581.0 120.0M80.0 114.9L85.5 114.9M586.5 114.9L581.0 114.9M80.0 111.3L85.5 111.3M586.5 111.3L581.0 111.3M80.0 108.4L85.5 108.4M586.5 108.4L581.0 108.4M80.0 106.1L85.5 106.1M586.5 106.1L581.0 106.1M80.0 104.2L85.5 104.2M586.5 104.2L581.0 104.2M80.0 102.5L85.5 102.5M586.5 102.5L581.0 102.5M80.0 101.0L85.5 101.0M586.5 101.0L581.0 101.0M80.0 128.8L90.0 128.8M586.5 128.8L576.5 128.8M80.0 149.1L85.5 149.1M586.5 149.1L581.0 149.1M80.0 143.9L85.5 143.9M586.5 143.9L581.0 143.9M80.0 140.3L85.5 140.3M586.5 140.3L581.0 140.3M80.0 137.5L85.5 137.5M586.5 137.5L581.0 137.5M80.0 135.2L85.5 135.2M586.5 135.2L581.0 135.2M80.0 133.3L85.5 133.3M586.5 133.3L581.0 133.3M80.0 131.6L85.5 131.6M586.5 131.6L581.0 131.6M80.0 130.1L85.5 130.1M586.5 130.1L581.0 130.1M80.0 157.8L90.0 157.8M586.5 157.8L576.5 157.8M80.0 178.1L85.5 178.1M586.5 178.1L581.0 178.1M80.0 173.0L85.5 173.0M586.5 173.0L581.0 173.0M80.0 169.4L85.5 169.4M586.5 169.4L581.0 169.4M80.0 166.6L85.5 166.6M586.5 166.6L581.0 166.6M80.0 164.3L85.5 164.3M586.5 164.3L581.0 164.3M80.0 162.3L85.5 162.3M586.5 162.3L581.0 162.3M80.0 160.6L85.5 160.6M586.5 160.6L581.0 160.6M80.0 159.1L85.5 159.1M586.5 159.1L581.0 159.1M80.0 186.9L90.0 186.9M586.5 186.9L576.5 186.9M80.0 207.2L85.5 207.2M586.5 207.2L581.0 207.2M80.0 202.1L85.5 202.1M586.5 202.1L581.0 202.1M80.0 198.4L85.5 198.4M586.5 198.4L581.0 198.4M80.0 195.6L85.5 195.6M586.5 195.6L581.0 195.6M80.0 193.3L85.5 193.3M586.5 193.3L581.0 193.3M80.0 191.4L85.5 191.4M586.5 191.4L581.0 191.4M80.0 189.7L85.5 189.7M586.5 189.7L581.0 189.7M80.0 188.2L85.5 188.2M586.5 188.2L581.0 188.2M80.0 215.9L90.0 215.9M586.5 215.9L576.5 215.9M80.0 236.3L85.5 236.3M586.5 236.3L581.0 236.3M80.0 231.1L85.5 231.1M586.5 231.1L581.0 231.1M80.0 227.5L85.5 227.5M586.5 227.5L581.0 227.5M80.0 224.7L85.5 224.7M586.5 224.7L581.0 224.7M80.0 222.4L85.5 222.4M586.5 222.4L581.0 222.4M80.0 220.4L85.5 220.4M586.5 220.4L581.0 220.4M80.0 218.8L85.5 218.8M586.5 218.8L581.0 218.8M80.0 217.3L85.5 217.3M586.5 217.3L581.0 217.3M80.0 245.0L90.0 245.0M586.5 245.0L576.5 245.0M80.0 245.0L90.0 245.0M586.5 245.0L576.5 245.0M80.0 265.4L85.5 265.4M586.5 265.4L581.0 265.4M80.0 260.2L85.5 260.2M586.5 260.2L581.0 260.2M80.0 256.6L85.5 256.6M586.5 256.6L581.0 256.6M80.0 253.8L85.5 253.8M586.5 253.8L581.0 253.8M80.0 251.5L85.5 251.5M586.5 251.5L581.0 251.5M80.0 249.5L85.5 249.5M586.5 249.5L581.0 249.5M80.0 247.8L85.5 247.8M586.5 247.8L581.0 247.8M80.0 246.3L85.5 246.3M586.5 246.3L581.0 246.3M80.0 274.1L90.0 274.1M586.5 274.1L576.5 274.1M80.0 294.5L85.5 294.5M586.5 294.5L581.0 294.5M80.0 289.4L85.5 289.4M586.5 289.4L581.0 289.4M80.0 285.7L85.5 285.7M586.5 285.7L581.0 285.7M80.0 282.9L85.5 282.9M586.5 282.9L581.0 282.9M80.0 280.6L85.5 280.6M586.5 280.6L581.0 280.6M80.0 278.6L85.5 278.6M586.5 278.6L581.0 278.6M80.0 276.9L85.5 276.9M586.5 276.9L581.0 276.9M80.0 275.5L85.5 275.5M586.5 275.5L581.0 275.5M80.0 303.2L90.0 303.2M586.5 303.2L576.5 303.2M80.0 323.6L85.5 323.6M586.5 323.6L581.0 323.6M80.0 318.5L85.5 318.5M586.5 318.5L581.0 318.5M80.0 314.8L85.5 314.8M586.5 314.8L581.0 314.8M80.0 312.0L85.5 312.0M586.5 312.0L581.0 312.0M80.0 309.7L85.5 309.7M586.5 309.7L581.0 309.7M80.0 307.8L85.5 307.8M586.5 307.8L581.0 307.8M80.0 306.1L85.5 306.1M586.5 306.1L581.0 306.1M80.0 304.6L85.5 304.6M586.5 304.6L581.0 304.6M80.0 332.4L90.0 332.4M586.5 332.4L576.5 332.4M80.0 352.7L85.5 352.7M586.5 352.7L581.0 352.7M80.0 347.6L85.5 347.6M586.5 347.6L581.0 347.6M80.0 344.0L85.5 344.0M586.5 344.0L581.0 344.0M80.0 341.1L85.5 341.1M586.5 341.1L581.0 341.1M80.0 338.8L85.5 338.8M586.5 338.8L581.0 338.8M80.0 336.9L85.5 336.9M586.5 336.9L581.0 336.9M80.0 335.2L85.5 335.2M586.5 335.2L581.0 335.2M80.0 333.7L85.5 333.7M586.5 333.7L581.0 333.7M80.0 361.5L90.0 361.5M586.5 361.5L576.5 361.5M80.0 381.9L85.5 381.9M586.5 381.9L581.0 381.9M80.0 376.7L85.5 376.7M586.5 376.7L581.0 376.7M80.0 373.1L85.5 373.1M586.5 373.1L581.0 373.1M80.0 370.3L85.5 370.3M586.5 370.3L581.0 370.3M80.0 368.0L85.5 368.0M586.5 368.0L581.0 368.0M80.0 366.0L85.5 366.0M586.5 366.0L581.0 366.0M80.0 364.3L85.5 364.3M586.5 364.3L581.0 364.3M80.0 362.8L85.5 362.8M586.5 362.8L581.0 362.8M80.0 390.6L90.0 390.6M586.5 390.6L576.5 390.6M80.0 411.0L85.5 411.0M586.5 411.0L581.0 411.0M80.0 405.9L85.5 405.9M586.5 405.9L581.0 405.9M80.0 402.2L85.5 402.2M586.5 402.2L581.0 402.2M80.0 399.4L85.5 399.4M586.5 399.4L581.0 399.4M80.0 397.1L85.5 397.1M586.5 397.1L581.0 397.1M80.0 395.1L85.5 395.1M586.5 395.1L581.0 395.1M80.0 393.4L85.5 393.4M586.5 393.4L581.0 393.4M80.0 392.0L85.5 392.0M586.5 392.0L581.0 392.0M80.0 419.8L90.0 419.8M586.5 419.8L576.5 419.8M80.0 440.1L85.5 440.1M586.5 440.1L581.0 440.1M80.0 435.0L85.5 435.0M586.5 435.0L581.0 435.0M80.0 431.3L85.5 431.3M586.5 431.3L581.0 431.3M80.0 428.5L85.5 428.5M586.5 428.5L581.0 428.5M80.0 426.2L85.5 426.2M586.5 426.2L581.0 426.2M80.0 424.3L85.5 424.3M586.5 424.3L581.0 424.3M80.0 422.6L85.5 422.6M586.5 422.6L581.0 422.6M80.0 421.1L85.5 421.1M586.5 421.1L581.0 421.1M80.0 448.9L90.0 448.9M586.5 448.9L576.5 448.9M80.0 469.2L85.5 469.2M586.5 469.2L581.0 469.2M80.0 464.1L85.5 464.1M586.5 464.1L581.0 464.1M80.0 460.5L85.5 460.5M586.5 460.5L581.0 460.5M80.0 457.6L85.5 457.6M586.5 457.6L581.0 457.6M80.0 455.3L85.5 455.3M586.5 455.3L581.0 455.3M80.0 453.4L85.5 453.4M586.5 453.4L581.0 453.4M80.0 451.7L85.5 451.7M586.5 451.7L581.0 451.7M80.0 450.2L85.5 450.2M586.5 450.2L581.0 450.2M80.0 478.0L90.0 478.0M586.5 478.0L576.5 478.0M96.9 245.0L96.9 239.5M113.8 245.0L113.8 239.5M130.7 245.0L130.7 239.5M147.5 245.0L147.5 239.5M164.4 245.0L164.4 235.0M181.3 245.0L181.3 239.5M198.2 245.0L198.2 239.5M215.1 245.0L215.1 239.5M231.9 245.0L231.9 239.5M248.8 245.0L248.8 235.0M265.7 245.0L265.7 239.5M282.6 245.0L282.6 239.5M299.5 245.0L299.5 239.5M316.4 245.0L316.4 239.5M333.2 245.0L333.2 235.0M350.1 245.0L350.1 239.5M367.0 245.0L367.0 239.5M383.9 245.0L383.9 239.5M400.8 245.0L400.8 239.5M417.7 245.0L417.7 235.0M434.6 245.0L434.6 239.5M451.4 245.0L451.4 239.5M468.3 245.0L468.3 239.5M485.2 245.0L485.2 239.5M502.1 245.0L502.1 235.0M519.0 245.0L519.0 239.5M535.9 245.0L535.9 239.5M552.7 245.0L552.7 239.5M569.6 245.0L569.6 239.5M96.9 478.0L96.9 472.5M113.8 478.0L113.8 472.5M130.7 478.0L130.7 472.5M147.5 478.0L147.5 472.5M164.4 478.0L164.4 468.0M181.3 478.0L181.3 472.5M198.2 478.0L198.2 472.5M215.1 478.0L215.1 472.5M231.9 478.0L231.9 472.5M248.8 478.0L248.8 468.0M265.7 478.0L265.7 472.5M282.6 478.0L282.6 472.5M299.5 478.0L299.5 472.5M316.4 478.0L316.4 472.5M333.2 478.0L333.2 468.0M350.1 478.0L350.1 472.5M367.0 478.0L367.0 472.5M383.9 478.0L383.9 472.5M400.8 478.0L400.8 472.5M417.7 478.0L417.7 468.0M434.6 478.0L434.6 472.5M451.4 478.0L451.4 472.5M468.3 478.0L468.3 472.5M485.2 478.0L485.2 472.5M502.1 478.0L502.1 468.0M519.0 478.0L519.0 472.5M535.9 478.0L535.9 472.5M552.7 478.0L552.7 472.5M569.6 478.0L569.6 472.5" stroke-width="1.7"/>
<rect x="80.0" y="12.5" width="506.5" height="465.5" stroke-width="2.2"/>
<line x1="80.0" y1="245.0" x2="586.5" y2="245.0" stroke-width="2.2"/>
</g>
<g font-family="Liberation Sans, sans-serif" fill="#000">
<text x="70.8" y="19.8" text-anchor="end" font-size="18.5">10<tspan font-size="11.5" dy="-10.3">-5</tspan></text>
<text x="70.8" y="48.9" text-anchor="end" font-size="18.5">10<tspan font-size="11.5" dy="-10.3">-6</tspan></text>
<text x="70.8" y="77.9" text-anchor="end" font-size="18.5">10<tspan font-size="11.5" dy="-10.3">-7</tspan></text>
<text x="70.8" y="107.0" text-anchor="end" font-size="18.5">10<tspan font-size="11.5" dy="-10.3">-8</tspan></text>
<text x="70.8" y="136.1" text-anchor="end" font-size="18.5">10<tspan font-size="11.5" dy="-10.3">-9</tspan></text>
<text x="70.8" y="165.1" text-anchor="end" font-size="18.5">10<tspan font-size="11.5" dy="-10.3">-10</tspan></text>
<text x="70.8" y="194.2" text-anchor="end" font-size="18.5">10<tspan font-size="11.5" dy="-10.3">-11</tspan></text>
<text x="70.8" y="223.2" text-anchor="end" font-size="18.5">10<tspan font-size="11.5" dy="-10.3">-12</tspan></text>
<text x="70.8" y="252.3" text-anchor="end" font-size="18.5">10<tspan font-size="11.5" dy="-10.3">-13</tspan></text>
<text x="70.8" y="281.4" text-anchor="end" font-size="18.5">10<tspan font-size="11.5" dy="-10.3">-6</tspan></text>
<text x="70.8" y="310.6" text-anchor="end" font-size="18.5">10<tspan font-size="11.5" dy="-10.3">-7</tspan></text>
<text x="70.8" y="339.7" text-anchor="end" font-size="18.5">10<tspan font-size="11.5" dy="-10.3">-8</tspan></text>
<text x="70.8" y="368.8" text-anchor="end" font-size="18.5">10<tspan font-size="11.5" dy="-10.3">-9</tspan></text>
<text x="70.8" y="397.9" text-anchor="end" font-size="18.5">10<tspan font-size="11.5" dy="-10.3">-10</tspan></text>
<text x="70.8" y="427.1" text-anchor="end" font-size="18.5">10<tspan font-size="11.5" dy="-10.3">-11</tspan></text>
<text x="70.8" y="456.2" text-anchor="end" font-size="18.5">10<tspan font-size="11.5" dy="-10.3">-12</tspan></text>
<text x="70.8" y="485.3" text-anchor="end" font-size="18.5">10<tspan font-size="11.5" dy="-10.3">-13</tspan></text>
<text x="79.0" y="500.8" text-anchor="middle" font-size="18.5">0</text>
<text x="163.4" y="500.8" text-anchor="middle" font-size="18.5">50</text>
<text x="247.8" y="500.8" text-anchor="middle" font-size="18.5">100</text>
<text x="332.2" y="500.8" text-anchor="middle" font-size="18.5">150</text>
<text x="416.7" y="500.8" text-anchor="middle" font-size="18.5">200</text>
<text x="501.1" y="500.8" text-anchor="middle" font-size="18.5">250</text>
<text x="585.5" y="500.8" text-anchor="middle" font-size="18.5">300</text>
<text x="336.5" y="527.5" text-anchor="middle" font-size="20">temperature / K</text>
<text transform="translate(15.6,232) rotate(-90)" text-anchor="middle" font-size="20">ion current / A</text>
<text x="95.6" y="46.7" font-size="19.5">(a)</text>
<text x="95.6" y="281" font-size="19.5">(b)</text>
</g>
<g font-family="Liberation Sans, sans-serif" font-size="15.5" fill="#000">
<line x1="462" y1="31" x2="500.5" y2="31" stroke="#6418ee" stroke-width="2"/>
<text x="504.2" y="36.5" font-style="italic" textLength="27" lengthAdjust="spacingAndGlyphs">m/z</text>
<text x="534.3" y="36.5">=</text>
<text x="548.3" y="36.5">4</text>
<line x1="462" y1="51" x2="500.5" y2="51" stroke="#0610d8" stroke-width="2"/>
<text x="504.2" y="56.5" font-style="italic" textLength="27" lengthAdjust="spacingAndGlyphs">m/z</text>
<text x="534.3" y="56.5">=</text>
<text x="548.3" y="56.5">20</text>
<line x1="462" y1="71" x2="500.5" y2="71" stroke="#000" stroke-width="2"/>
<text x="504.2" y="76.5" font-style="italic" textLength="27" lengthAdjust="spacingAndGlyphs">m/z</text>
<text x="534.3" y="76.5">=</text>
<text x="548.3" y="76.5">32</text>
<line x1="462" y1="91" x2="500.5" y2="91" stroke="#d81818" stroke-width="2"/>
<text x="504.2" y="96.5" font-style="italic" textLength="27" lengthAdjust="spacingAndGlyphs">m/z</text>
<text x="534.3" y="96.5">=</text>
<text x="548.3" y="96.5">36</text>
<line x1="462" y1="111" x2="500.5" y2="111" stroke="#0c500c" stroke-width="2"/>
<text x="504.2" y="116.5" font-style="italic" textLength="27" lengthAdjust="spacingAndGlyphs">m/z</text>
<text x="534.3" y="116.5">=</text>
<text x="548.3" y="116.5">48</text>
</g>
<g font-family="Liberation Sans, sans-serif" font-size="15.5" fill="#000">
<line x1="462" y1="268" x2="500.5" y2="268" stroke="#6418ee" stroke-width="2"/>
<text x="504.2" y="273.5" font-style="italic" textLength="27" lengthAdjust="spacingAndGlyphs">m/z</text>
<text x="534.3" y="273.5">=</text>
<text x="548.3" y="273.5">4</text>
<line x1="462" y1="288" x2="500.5" y2="288" stroke="#000c90" stroke-width="1.8"/>
<text x="504.2" y="293.5" font-style="italic" textLength="27" lengthAdjust="spacingAndGlyphs">m/z</text>
<text x="534.3" y="293.5">=</text>
<text x="548.3" y="293.5">20</text>
<line x1="462" y1="308" x2="500.5" y2="308" stroke="#38e030" stroke-width="2"/>
<text x="504.2" y="313.5" font-style="italic" textLength="27" lengthAdjust="spacingAndGlyphs">m/z</text>
<text x="534.3" y="313.5">=</text>
<text x="548.3" y="313.5">28</text>
<line x1="462" y1="328" x2="500.5" y2="328" stroke="#000" stroke-width="2"/>
<text x="504.2" y="333.5" font-style="italic" textLength="27" lengthAdjust="spacingAndGlyphs">m/z</text>
<text x="534.3" y="333.5">=</text>
<text x="548.3" y="333.5">32</text>
<line x1="462" y1="348" x2="500.5" y2="348" stroke="#1e0c82" stroke-width="2"/>
<text x="504.2" y="353.5" font-style="italic" textLength="27" lengthAdjust="spacingAndGlyphs">m/z</text>
<text x="534.3" y="353.5">=</text>
<text x="548.3" y="353.5">44</text>
<line x1="462" y1="368" x2="500.5" y2="368" stroke="#0a400a" stroke-width="2"/>
<text x="504.2" y="373.5" font-style="italic" textLength="27" lengthAdjust="spacingAndGlyphs">m/z</text>
<text x="534.3" y="373.5">=</text>
<text x="548.3" y="373.5">48</text>
</g>
</svg></body></html>
